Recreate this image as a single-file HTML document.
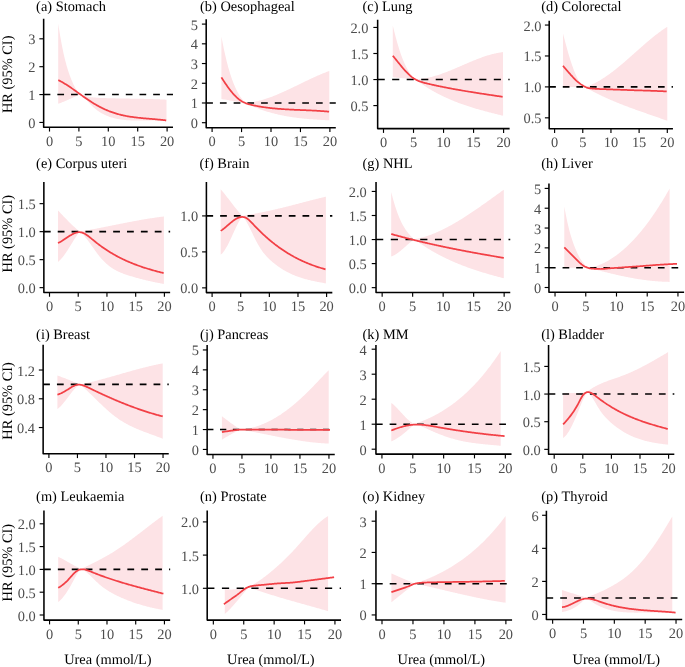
<!DOCTYPE html>
<html><head><meta charset="utf-8"><style>
html,body{margin:0;padding:0;background:#fff;}
svg{display:block;will-change:transform;text-rendering:geometricPrecision;}
.tk{font-family:"Liberation Serif",serif;font-size:14.4px;fill:#4d4d4d;}
.tt{font-family:"Liberation Serif",serif;font-size:14.4px;fill:#000;}
</style></head><body>
<svg width="685" height="667" viewBox="0 0 685 667">
<rect width="685" height="667" fill="#fff"/>
<g><path d="M58.20,23.40 L58.96,28.49 L59.73,33.29 L60.49,37.81 L61.26,42.08 L62.02,46.09 L62.79,49.87 L63.55,53.43 L64.31,56.77 L65.08,59.91 L65.84,62.86 L66.61,65.63 L67.37,68.24 L68.14,70.69 L68.90,73.00 L69.66,75.18 L70.43,77.24 L71.19,79.19 L71.96,81.03 L72.72,82.77 L73.49,84.41 L74.25,85.95 L75.01,87.41 L75.78,88.78 L76.54,90.08 L77.31,91.31 L78.07,92.47 L78.84,93.56 L79.60,94.60 L79.60,94.60 L80.36,94.86 L81.11,95.10 L81.87,95.33 L82.62,95.55 L83.38,95.75 L84.13,95.94 L84.89,96.12 L85.65,96.29 L86.40,96.44 L87.16,96.59 L87.91,96.72 L88.67,96.85 L89.42,96.96 L90.18,97.07 L90.93,97.17 L91.69,97.26 L92.45,97.35 L93.20,97.42 L93.96,97.49 L94.71,97.56 L95.47,97.61 L96.22,97.67 L96.98,97.72 L97.74,97.76 L98.49,97.80 L99.25,97.84 L100.00,97.88 L100.76,97.91 L101.51,97.94 L102.27,97.97 L103.03,98.00 L103.78,98.03 L104.54,98.06 L105.29,98.09 L106.05,98.11 L106.80,98.14 L107.56,98.16 L108.31,98.19 L109.07,98.21 L109.83,98.23 L110.58,98.25 L111.34,98.27 L112.09,98.29 L112.85,98.31 L113.60,98.33 L114.36,98.35 L115.12,98.36 L115.87,98.38 L116.63,98.40 L117.38,98.41 L118.14,98.43 L118.89,98.44 L119.65,98.46 L120.41,98.47 L121.16,98.49 L121.92,98.50 L122.67,98.51 L123.43,98.53 L124.18,98.54 L124.94,98.55 L125.69,98.56 L126.45,98.57 L127.21,98.59 L127.96,98.60 L128.72,98.61 L129.47,98.62 L130.23,98.63 L130.98,98.65 L131.74,98.66 L132.50,98.67 L133.25,98.68 L134.01,98.69 L134.76,98.71 L135.52,98.72 L136.27,98.73 L137.03,98.74 L137.79,98.76 L138.54,98.77 L139.30,98.78 L140.05,98.80 L140.81,98.81 L141.56,98.83 L142.32,98.84 L143.07,98.86 L143.83,98.87 L144.59,98.89 L145.34,98.91 L146.10,98.92 L146.85,98.94 L147.61,98.96 L148.36,98.98 L149.12,99.00 L149.88,99.02 L150.63,99.04 L151.39,99.06 L152.14,99.09 L152.90,99.11 L153.65,99.13 L154.41,99.16 L155.17,99.19 L155.92,99.21 L156.68,99.24 L157.43,99.27 L158.19,99.30 L158.94,99.33 L159.70,99.36 L160.45,99.40 L161.21,99.43 L161.97,99.46 L162.72,99.50 L163.48,99.54 L164.23,99.58 L164.99,99.62 L165.74,99.66 L166.50,99.70 L166.50,121.50 L165.74,121.38 L164.99,121.27 L164.23,121.17 L163.48,121.07 L162.72,120.99 L161.97,120.91 L161.21,120.83 L160.45,120.77 L159.70,120.71 L158.94,120.65 L158.19,120.61 L157.43,120.56 L156.68,120.53 L155.92,120.49 L155.17,120.47 L154.41,120.44 L153.65,120.42 L152.90,120.41 L152.14,120.40 L151.39,120.39 L150.63,120.38 L149.88,120.38 L149.12,120.38 L148.36,120.38 L147.61,120.39 L146.85,120.39 L146.10,120.40 L145.34,120.41 L144.59,120.42 L143.83,120.43 L143.07,120.44 L142.32,120.45 L141.56,120.46 L140.81,120.47 L140.05,120.47 L139.30,120.48 L138.54,120.49 L137.79,120.49 L137.03,120.49 L136.27,120.49 L135.52,120.49 L134.76,120.48 L134.01,120.47 L133.25,120.46 L132.50,120.45 L131.74,120.43 L130.98,120.40 L130.23,120.37 L129.47,120.34 L128.72,120.30 L127.96,120.26 L127.21,120.21 L126.45,120.15 L125.69,120.09 L124.94,120.03 L124.18,119.95 L123.43,119.87 L122.67,119.78 L121.92,119.69 L121.16,119.58 L120.41,119.47 L119.65,119.35 L118.89,119.22 L118.14,119.08 L117.38,118.93 L116.63,118.78 L115.87,118.61 L115.12,118.43 L114.36,118.25 L113.60,118.05 L112.85,117.84 L112.09,117.62 L111.34,117.39 L110.58,117.15 L109.83,116.89 L109.07,116.63 L108.31,116.35 L107.56,116.05 L106.80,115.75 L106.05,115.43 L105.29,115.09 L104.54,114.74 L103.78,114.37 L103.03,113.98 L102.27,113.57 L101.51,113.15 L100.76,112.71 L100.00,112.24 L99.25,111.76 L98.49,111.25 L97.74,110.72 L96.98,110.17 L96.22,109.59 L95.47,108.99 L94.71,108.37 L93.96,107.72 L93.20,107.04 L92.45,106.33 L91.69,105.60 L90.93,104.84 L90.18,104.05 L89.42,103.24 L88.67,102.42 L87.91,101.59 L87.16,100.77 L86.40,99.95 L85.65,99.16 L84.89,98.40 L84.13,97.68 L83.38,97.00 L82.62,96.38 L81.87,95.82 L81.11,95.33 L80.36,94.92 L79.60,94.60 L79.60,94.60 L78.84,94.94 L78.07,95.27 L77.31,95.62 L76.54,95.96 L75.78,96.31 L75.01,96.66 L74.25,97.01 L73.49,97.36 L72.72,97.71 L71.96,98.06 L71.19,98.41 L70.43,98.75 L69.66,99.10 L68.90,99.44 L68.14,99.78 L67.37,100.12 L66.61,100.45 L65.84,100.78 L65.08,101.10 L64.31,101.42 L63.55,101.73 L62.79,102.04 L62.02,102.34 L61.26,102.63 L60.49,102.91 L59.73,103.18 L58.96,103.45 L58.20,103.70 Z" fill="#fde3e6" stroke="none"/>
<line x1="43.65" y1="94.57" x2="172.98" y2="94.57" stroke="#000" stroke-width="1.6" stroke-dasharray="6.71 6.98"/>
<path d="M58.30,80.10 L59.05,80.48 L59.81,80.86 L60.56,81.26 L61.32,81.67 L62.07,82.10 L62.83,82.53 L63.58,82.97 L64.34,83.42 L65.09,83.88 L65.85,84.35 L66.60,84.82 L67.35,85.31 L68.11,85.80 L68.86,86.30 L69.62,86.80 L70.37,87.31 L71.13,87.83 L71.88,88.35 L72.64,88.87 L73.39,89.40 L74.15,89.94 L74.90,90.47 L75.65,91.01 L76.41,91.56 L77.16,92.10 L77.92,92.65 L78.67,93.19 L79.43,93.74 L80.18,94.29 L80.94,94.83 L81.69,95.37 L82.45,95.91 L83.20,96.45 L83.95,96.99 L84.71,97.52 L85.46,98.05 L86.22,98.57 L86.97,99.09 L87.73,99.60 L88.48,100.10 L89.24,100.60 L89.99,101.09 L90.75,101.58 L91.50,102.05 L92.25,102.53 L93.01,102.99 L93.76,103.45 L94.52,103.90 L95.27,104.34 L96.03,104.78 L96.78,105.21 L97.54,105.63 L98.29,106.05 L99.05,106.46 L99.80,106.86 L100.55,107.25 L101.31,107.63 L102.06,108.01 L102.82,108.38 L103.57,108.74 L104.33,109.10 L105.08,109.44 L105.84,109.78 L106.59,110.11 L107.35,110.43 L108.10,110.74 L108.85,111.05 L109.61,111.34 L110.36,111.63 L111.12,111.91 L111.87,112.18 L112.63,112.44 L113.38,112.70 L114.14,112.95 L114.89,113.19 L115.65,113.42 L116.40,113.64 L117.15,113.86 L117.91,114.07 L118.66,114.28 L119.42,114.48 L120.17,114.67 L120.93,114.85 L121.68,115.03 L122.44,115.21 L123.19,115.38 L123.95,115.54 L124.70,115.69 L125.45,115.84 L126.21,115.99 L126.96,116.13 L127.72,116.27 L128.47,116.40 L129.23,116.53 L129.98,116.65 L130.74,116.77 L131.49,116.88 L132.25,116.99 L133.00,117.10 L133.75,117.20 L134.51,117.30 L135.26,117.40 L136.02,117.49 L136.77,117.58 L137.53,117.67 L138.28,117.75 L139.04,117.83 L139.79,117.91 L140.55,117.99 L141.30,118.06 L142.05,118.14 L142.81,118.21 L143.56,118.28 L144.32,118.35 L145.07,118.41 L145.83,118.48 L146.58,118.55 L147.34,118.61 L148.09,118.67 L148.85,118.74 L149.60,118.80 L150.35,118.86 L151.11,118.92 L151.86,118.99 L152.62,119.05 L153.37,119.11 L154.13,119.18 L154.88,119.24 L155.64,119.31 L156.39,119.37 L157.15,119.44 L157.90,119.51 L158.65,119.58 L159.41,119.65 L160.16,119.73 L160.92,119.80 L161.67,119.88 L162.43,119.96 L163.18,120.04 L163.94,120.13 L164.69,120.22 L165.45,120.31 L166.20,120.40" fill="none" stroke="#f24046" stroke-width="1.75" stroke-linejoin="round" stroke-linecap="butt"/>
<path d="M43.65,18.80 L43.65,127.25 L172.98,127.25" fill="none" stroke="#000" stroke-width="1.55" stroke-linejoin="round"/>
<line x1="49.50" y1="127.25" x2="49.50" y2="131.55" stroke="#000" stroke-width="1.15"/>
<text x="49.50" y="145.85" text-anchor="middle" class="tk">0</text>
<line x1="78.90" y1="127.25" x2="78.90" y2="131.55" stroke="#000" stroke-width="1.15"/>
<text x="78.90" y="145.85" text-anchor="middle" class="tk">5</text>
<line x1="108.30" y1="127.25" x2="108.30" y2="131.55" stroke="#000" stroke-width="1.15"/>
<text x="108.30" y="145.85" text-anchor="middle" class="tk">10</text>
<line x1="137.70" y1="127.25" x2="137.70" y2="131.55" stroke="#000" stroke-width="1.15"/>
<text x="137.70" y="145.85" text-anchor="middle" class="tk">15</text>
<line x1="167.10" y1="127.25" x2="167.10" y2="131.55" stroke="#000" stroke-width="1.15"/>
<text x="167.10" y="145.85" text-anchor="middle" class="tk">20</text>
<line x1="39.35" y1="122.45" x2="43.65" y2="122.45" stroke="#000" stroke-width="1.15"/>
<text x="35.50" y="127.95" text-anchor="end" class="tk">0</text>
<line x1="39.35" y1="94.57" x2="43.65" y2="94.57" stroke="#000" stroke-width="1.15"/>
<text x="35.50" y="100.07" text-anchor="end" class="tk">1</text>
<line x1="39.35" y1="66.69" x2="43.65" y2="66.69" stroke="#000" stroke-width="1.15"/>
<text x="35.50" y="72.19" text-anchor="end" class="tk">2</text>
<line x1="39.35" y1="38.81" x2="43.65" y2="38.81" stroke="#000" stroke-width="1.15"/>
<text x="35.50" y="44.31" text-anchor="end" class="tk">3</text>
<text x="36.10" y="10.50" class="tt">(a) Stomach</text></g>
<g><path d="M221.40,36.40 L222.15,40.42 L222.90,44.27 L223.65,47.95 L224.40,51.48 L225.15,54.85 L225.90,58.07 L226.65,61.15 L227.40,64.08 L228.15,66.88 L228.90,69.54 L229.65,72.08 L230.40,74.49 L231.15,76.78 L231.90,78.95 L232.65,81.02 L233.40,82.97 L234.15,84.82 L234.90,86.57 L235.65,88.23 L236.40,89.80 L237.15,91.28 L237.90,92.68 L238.65,94.00 L239.40,95.24 L240.15,96.42 L240.90,97.54 L241.65,98.59 L242.40,99.59 L243.15,100.53 L243.90,101.43 L244.65,102.28 L245.40,103.10 L245.40,103.10 L246.16,103.04 L246.91,102.97 L247.67,102.90 L248.42,102.81 L249.18,102.72 L249.94,102.62 L250.69,102.51 L251.45,102.39 L252.20,102.27 L252.96,102.13 L253.71,101.99 L254.47,101.84 L255.23,101.69 L255.98,101.53 L256.74,101.36 L257.49,101.18 L258.25,101.00 L259.01,100.81 L259.76,100.61 L260.52,100.41 L261.27,100.20 L262.03,99.98 L262.78,99.76 L263.54,99.54 L264.30,99.30 L265.05,99.06 L265.81,98.82 L266.56,98.57 L267.32,98.31 L268.08,98.05 L268.83,97.79 L269.59,97.52 L270.34,97.24 L271.10,96.96 L271.85,96.68 L272.61,96.39 L273.37,96.10 L274.12,95.80 L274.88,95.50 L275.63,95.19 L276.39,94.88 L277.15,94.57 L277.90,94.25 L278.66,93.93 L279.41,93.61 L280.17,93.28 L280.93,92.95 L281.68,92.62 L282.44,92.28 L283.19,91.94 L283.95,91.60 L284.70,91.26 L285.46,90.91 L286.22,90.56 L286.97,90.21 L287.73,89.86 L288.48,89.50 L289.24,89.15 L290.00,88.79 L290.75,88.43 L291.51,88.07 L292.26,87.71 L293.02,87.35 L293.77,86.98 L294.53,86.62 L295.29,86.25 L296.04,85.88 L296.80,85.52 L297.55,85.15 L298.31,84.78 L299.07,84.41 L299.82,84.05 L300.58,83.68 L301.33,83.31 L302.09,82.94 L302.85,82.58 L303.60,82.21 L304.36,81.85 L305.11,81.48 L305.87,81.12 L306.62,80.76 L307.38,80.40 L308.14,80.04 L308.89,79.68 L309.65,79.32 L310.40,78.97 L311.16,78.61 L311.92,78.26 L312.67,77.91 L313.43,77.56 L314.18,77.22 L314.94,76.88 L315.69,76.54 L316.45,76.20 L317.21,75.87 L317.96,75.53 L318.72,75.21 L319.47,74.88 L320.23,74.56 L320.99,74.24 L321.74,73.93 L322.50,73.61 L323.25,73.31 L324.01,73.00 L324.76,72.70 L325.52,72.41 L326.28,72.12 L327.03,71.83 L327.79,71.55 L328.54,71.27 L329.30,71.00 L329.30,120.30 L328.54,120.27 L327.79,120.23 L327.03,120.20 L326.28,120.16 L325.52,120.13 L324.76,120.09 L324.01,120.05 L323.25,120.01 L322.50,119.97 L321.74,119.93 L320.99,119.89 L320.23,119.85 L319.47,119.81 L318.72,119.76 L317.96,119.72 L317.21,119.67 L316.45,119.62 L315.69,119.57 L314.94,119.52 L314.18,119.47 L313.43,119.42 L312.67,119.36 L311.92,119.31 L311.16,119.25 L310.40,119.19 L309.65,119.13 L308.89,119.06 L308.14,119.00 L307.38,118.93 L306.62,118.87 L305.87,118.79 L305.11,118.72 L304.36,118.65 L303.60,118.57 L302.85,118.49 L302.09,118.41 L301.33,118.33 L300.58,118.25 L299.82,118.16 L299.07,118.07 L298.31,117.98 L297.55,117.89 L296.80,117.79 L296.04,117.69 L295.29,117.59 L294.53,117.49 L293.77,117.38 L293.02,117.27 L292.26,117.16 L291.51,117.04 L290.75,116.93 L290.00,116.81 L289.24,116.68 L288.48,116.56 L287.73,116.43 L286.97,116.30 L286.22,116.16 L285.46,116.02 L284.70,115.88 L283.95,115.74 L283.19,115.59 L282.44,115.44 L281.68,115.29 L280.93,115.13 L280.17,114.97 L279.41,114.80 L278.66,114.63 L277.90,114.46 L277.15,114.29 L276.39,114.11 L275.63,113.93 L274.88,113.74 L274.12,113.55 L273.37,113.36 L272.61,113.16 L271.85,112.96 L271.10,112.75 L270.34,112.54 L269.59,112.33 L268.83,112.11 L268.08,111.89 L267.32,111.67 L266.56,111.44 L265.81,111.20 L265.05,110.96 L264.30,110.72 L263.54,110.47 L262.78,110.22 L262.03,109.96 L261.27,109.70 L260.52,109.44 L259.76,109.17 L259.01,108.89 L258.25,108.61 L257.49,108.33 L256.74,108.04 L255.98,107.75 L255.23,107.45 L254.47,107.14 L253.71,106.84 L252.96,106.52 L252.20,106.20 L251.45,105.88 L250.69,105.55 L249.94,105.22 L249.18,104.88 L248.42,104.53 L247.67,104.18 L246.91,103.83 L246.16,103.47 L245.40,103.10 L245.40,103.10 L244.65,103.02 L243.90,102.93 L243.15,102.84 L242.40,102.73 L241.65,102.62 L240.90,102.51 L240.15,102.39 L239.40,102.26 L238.65,102.13 L237.90,101.99 L237.15,101.85 L236.40,101.71 L235.65,101.57 L234.90,101.42 L234.15,101.27 L233.40,101.13 L232.65,100.98 L231.90,100.83 L231.15,100.68 L230.40,100.54 L229.65,100.39 L228.90,100.25 L228.15,100.12 L227.40,99.98 L226.65,99.85 L225.90,99.73 L225.15,99.61 L224.40,99.49 L223.65,99.38 L222.90,99.28 L222.15,99.19 L221.40,99.10 Z" fill="#fde3e6" stroke="none"/>
<line x1="206.20" y1="102.98" x2="335.79" y2="102.98" stroke="#000" stroke-width="1.6" stroke-dasharray="6.72 7.00"/>
<path d="M221.40,77.40 L222.15,78.58 L222.91,79.74 L223.66,80.89 L224.41,82.03 L225.17,83.15 L225.92,84.25 L226.67,85.34 L227.43,86.41 L228.18,87.45 L228.93,88.48 L229.68,89.48 L230.44,90.45 L231.19,91.40 L231.94,92.32 L232.70,93.22 L233.45,94.08 L234.20,94.91 L234.96,95.71 L235.71,96.47 L236.46,97.20 L237.22,97.89 L237.97,98.55 L238.72,99.16 L239.48,99.73 L240.23,100.27 L240.98,100.76 L241.73,101.22 L242.49,101.65 L243.24,102.05 L243.99,102.41 L244.75,102.75 L245.50,103.07 L246.25,103.36 L247.01,103.62 L247.76,103.87 L248.51,104.10 L249.27,104.32 L250.02,104.52 L250.77,104.71 L251.53,104.89 L252.28,105.06 L253.03,105.23 L253.79,105.39 L254.54,105.54 L255.29,105.70 L256.04,105.85 L256.80,105.99 L257.55,106.13 L258.30,106.27 L259.06,106.41 L259.81,106.54 L260.56,106.66 L261.32,106.79 L262.07,106.91 L262.82,107.02 L263.58,107.14 L264.33,107.25 L265.08,107.36 L265.84,107.46 L266.59,107.56 L267.34,107.66 L268.10,107.75 L268.85,107.85 L269.60,107.94 L270.35,108.02 L271.11,108.11 L271.86,108.19 L272.61,108.27 L273.37,108.35 L274.12,108.42 L274.87,108.49 L275.63,108.56 L276.38,108.63 L277.13,108.69 L277.89,108.76 L278.64,108.82 L279.39,108.88 L280.15,108.94 L280.90,108.99 L281.65,109.05 L282.40,109.10 L283.16,109.15 L283.91,109.20 L284.66,109.25 L285.42,109.29 L286.17,109.34 L286.92,109.38 L287.68,109.42 L288.43,109.46 L289.18,109.50 L289.94,109.54 L290.69,109.58 L291.44,109.62 L292.20,109.65 L292.95,109.69 L293.70,109.72 L294.46,109.76 L295.21,109.79 L295.96,109.82 L296.71,109.86 L297.47,109.89 L298.22,109.92 L298.97,109.95 L299.73,109.98 L300.48,110.01 L301.23,110.04 L301.99,110.08 L302.74,110.11 L303.49,110.14 L304.25,110.17 L305.00,110.20 L305.75,110.23 L306.51,110.26 L307.26,110.30 L308.01,110.33 L308.77,110.36 L309.52,110.40 L310.27,110.43 L311.02,110.47 L311.78,110.50 L312.53,110.54 L313.28,110.58 L314.04,110.62 L314.79,110.66 L315.54,110.70 L316.30,110.74 L317.05,110.78 L317.80,110.83 L318.56,110.87 L319.31,110.92 L320.06,110.97 L320.82,111.02 L321.57,111.07 L322.32,111.13 L323.07,111.18 L323.83,111.24 L324.58,111.30 L325.33,111.36 L326.09,111.43 L326.84,111.49 L327.59,111.56 L328.35,111.63 L329.10,111.70" fill="none" stroke="#f24046" stroke-width="1.75" stroke-linejoin="round" stroke-linecap="butt"/>
<path d="M206.20,19.20 L206.20,127.80 L335.79,127.80" fill="none" stroke="#000" stroke-width="1.55" stroke-linejoin="round"/>
<line x1="212.10" y1="127.80" x2="212.10" y2="132.10" stroke="#000" stroke-width="1.15"/>
<text x="212.10" y="146.40" text-anchor="middle" class="tk">0</text>
<line x1="241.55" y1="127.80" x2="241.55" y2="132.10" stroke="#000" stroke-width="1.15"/>
<text x="241.55" y="146.40" text-anchor="middle" class="tk">5</text>
<line x1="271.00" y1="127.80" x2="271.00" y2="132.10" stroke="#000" stroke-width="1.15"/>
<text x="271.00" y="146.40" text-anchor="middle" class="tk">10</text>
<line x1="300.45" y1="127.80" x2="300.45" y2="132.10" stroke="#000" stroke-width="1.15"/>
<text x="300.45" y="146.40" text-anchor="middle" class="tk">15</text>
<line x1="329.90" y1="127.80" x2="329.90" y2="132.10" stroke="#000" stroke-width="1.15"/>
<text x="329.90" y="146.40" text-anchor="middle" class="tk">20</text>
<line x1="201.90" y1="122.70" x2="206.20" y2="122.70" stroke="#000" stroke-width="1.15"/>
<text x="197.95" y="128.20" text-anchor="end" class="tk">0</text>
<line x1="201.90" y1="102.98" x2="206.20" y2="102.98" stroke="#000" stroke-width="1.15"/>
<text x="197.95" y="108.48" text-anchor="end" class="tk">1</text>
<line x1="201.90" y1="83.26" x2="206.20" y2="83.26" stroke="#000" stroke-width="1.15"/>
<text x="197.95" y="88.76" text-anchor="end" class="tk">2</text>
<line x1="201.90" y1="63.54" x2="206.20" y2="63.54" stroke="#000" stroke-width="1.15"/>
<text x="197.95" y="69.04" text-anchor="end" class="tk">3</text>
<line x1="201.90" y1="43.82" x2="206.20" y2="43.82" stroke="#000" stroke-width="1.15"/>
<text x="197.95" y="49.32" text-anchor="end" class="tk">4</text>
<line x1="201.90" y1="24.10" x2="206.20" y2="24.10" stroke="#000" stroke-width="1.15"/>
<text x="197.95" y="29.60" text-anchor="end" class="tk">5</text>
<text x="200.00" y="10.50" class="tt">(b) Oesophageal</text></g>
<g><path d="M392.80,25.40 L393.57,28.67 L394.33,31.83 L395.10,34.86 L395.86,37.78 L396.63,40.58 L397.39,43.27 L398.16,45.85 L398.92,48.33 L399.69,50.70 L400.46,52.96 L401.22,55.13 L401.99,57.19 L402.75,59.16 L403.52,61.04 L404.28,62.82 L405.05,64.51 L405.81,66.11 L406.58,67.63 L407.34,69.07 L408.11,70.42 L408.88,71.70 L409.64,72.89 L410.41,74.02 L411.17,75.07 L411.94,76.04 L412.70,76.96 L413.47,77.80 L414.23,78.58 L415.00,79.30 L415.00,79.30 L415.75,79.28 L416.50,79.26 L417.26,79.22 L418.01,79.17 L418.76,79.12 L419.51,79.06 L420.26,78.98 L421.02,78.90 L421.77,78.81 L422.52,78.71 L423.27,78.60 L424.03,78.48 L424.78,78.36 L425.53,78.22 L426.28,78.08 L427.03,77.94 L427.79,77.78 L428.54,77.62 L429.29,77.45 L430.04,77.27 L430.79,77.09 L431.55,76.90 L432.30,76.70 L433.05,76.50 L433.80,76.29 L434.56,76.07 L435.31,75.85 L436.06,75.62 L436.81,75.39 L437.56,75.15 L438.32,74.91 L439.07,74.66 L439.82,74.41 L440.57,74.15 L441.32,73.89 L442.08,73.62 L442.83,73.35 L443.58,73.07 L444.33,72.79 L445.09,72.51 L445.84,72.22 L446.59,71.93 L447.34,71.64 L448.09,71.34 L448.85,71.04 L449.60,70.74 L450.35,70.44 L451.10,70.13 L451.85,69.82 L452.61,69.51 L453.36,69.19 L454.11,68.88 L454.86,68.56 L455.62,68.24 L456.37,67.92 L457.12,67.60 L457.87,67.28 L458.62,66.95 L459.38,66.63 L460.13,66.30 L460.88,65.98 L461.63,65.65 L462.38,65.33 L463.14,65.00 L463.89,64.68 L464.64,64.35 L465.39,64.03 L466.15,63.71 L466.90,63.38 L467.65,63.06 L468.40,62.74 L469.15,62.42 L469.91,62.10 L470.66,61.79 L471.41,61.48 L472.16,61.16 L472.91,60.85 L473.67,60.55 L474.42,60.24 L475.17,59.94 L475.92,59.64 L476.68,59.34 L477.43,59.05 L478.18,58.76 L478.93,58.47 L479.68,58.19 L480.44,57.91 L481.19,57.64 L481.94,57.37 L482.69,57.10 L483.44,56.84 L484.20,56.58 L484.95,56.33 L485.70,56.08 L486.45,55.84 L487.21,55.60 L487.96,55.37 L488.71,55.14 L489.46,54.92 L490.21,54.70 L490.97,54.49 L491.72,54.29 L492.47,54.09 L493.22,53.90 L493.97,53.72 L494.73,53.54 L495.48,53.38 L496.23,53.21 L496.98,53.06 L497.74,52.91 L498.49,52.77 L499.24,52.64 L499.99,52.51 L500.74,52.40 L501.50,52.29 L502.25,52.19 L503.00,52.10 L503.10,115.80 L502.35,115.61 L501.59,115.43 L500.84,115.24 L500.09,115.05 L499.34,114.87 L498.58,114.68 L497.83,114.49 L497.08,114.30 L496.32,114.11 L495.57,113.92 L494.82,113.73 L494.06,113.54 L493.31,113.35 L492.56,113.16 L491.81,112.97 L491.05,112.78 L490.30,112.58 L489.55,112.39 L488.79,112.19 L488.04,111.99 L487.29,111.80 L486.53,111.60 L485.78,111.40 L485.03,111.20 L484.28,110.99 L483.52,110.79 L482.77,110.58 L482.02,110.37 L481.26,110.17 L480.51,109.96 L479.76,109.74 L479.00,109.53 L478.25,109.31 L477.50,109.10 L476.75,108.88 L475.99,108.66 L475.24,108.43 L474.49,108.21 L473.73,107.98 L472.98,107.75 L472.23,107.52 L471.47,107.29 L470.72,107.05 L469.97,106.81 L469.22,106.57 L468.46,106.33 L467.71,106.08 L466.96,105.83 L466.20,105.58 L465.45,105.33 L464.70,105.07 L463.94,104.81 L463.19,104.55 L462.44,104.29 L461.69,104.02 L460.93,103.75 L460.18,103.47 L459.43,103.20 L458.67,102.91 L457.92,102.63 L457.17,102.34 L456.41,102.05 L455.66,101.76 L454.91,101.46 L454.16,101.16 L453.40,100.86 L452.65,100.55 L451.90,100.24 L451.14,99.92 L450.39,99.60 L449.64,99.28 L448.88,98.95 L448.13,98.62 L447.38,98.29 L446.63,97.95 L445.87,97.60 L445.12,97.26 L444.37,96.91 L443.61,96.55 L442.86,96.19 L442.11,95.83 L441.35,95.46 L440.60,95.08 L439.85,94.70 L439.10,94.32 L438.34,93.93 L437.59,93.54 L436.84,93.14 L436.08,92.74 L435.33,92.34 L434.58,91.92 L433.82,91.51 L433.07,91.09 L432.32,90.66 L431.57,90.23 L430.81,89.79 L430.06,89.35 L429.31,88.90 L428.55,88.45 L427.80,87.99 L427.05,87.52 L426.29,87.05 L425.54,86.58 L424.79,86.10 L424.04,85.61 L423.28,85.12 L422.53,84.62 L421.78,84.11 L421.02,83.60 L420.27,83.09 L419.52,82.56 L418.76,82.04 L418.01,81.50 L417.26,80.96 L416.51,80.41 L415.75,79.86 L415.00,79.30 L415.00,79.30 L414.23,79.23 L413.47,79.16 L412.70,79.09 L411.94,79.02 L411.17,78.95 L410.41,78.88 L409.64,78.81 L408.88,78.74 L408.11,78.67 L407.34,78.60 L406.58,78.53 L405.81,78.46 L405.05,78.39 L404.28,78.33 L403.52,78.26 L402.75,78.19 L401.99,78.12 L401.22,78.05 L400.46,77.98 L399.69,77.91 L398.92,77.84 L398.16,77.78 L397.39,77.71 L396.63,77.64 L395.86,77.57 L395.10,77.50 L394.33,77.44 L393.57,77.37 L392.80,77.30 Z" fill="#fde3e6" stroke="none"/>
<line x1="377.65" y1="79.55" x2="509.61" y2="79.55" stroke="#000" stroke-width="1.6" stroke-dasharray="7.11 7.41"/>
<path d="M392.80,55.70 L393.55,56.61 L394.30,57.54 L395.06,58.47 L395.81,59.40 L396.56,60.34 L397.31,61.27 L398.06,62.21 L398.82,63.14 L399.57,64.07 L400.32,65.00 L401.07,65.91 L401.82,66.82 L402.58,67.71 L403.33,68.59 L404.08,69.46 L404.83,70.30 L405.58,71.13 L406.34,71.94 L407.09,72.72 L407.84,73.48 L408.59,74.21 L409.35,74.91 L410.10,75.59 L410.85,76.23 L411.60,76.84 L412.35,77.41 L413.11,77.94 L413.86,78.45 L414.61,78.91 L415.36,79.35 L416.11,79.76 L416.87,80.14 L417.62,80.50 L418.37,80.83 L419.12,81.14 L419.87,81.43 L420.63,81.70 L421.38,81.96 L422.13,82.19 L422.88,82.42 L423.63,82.63 L424.39,82.83 L425.14,83.03 L425.89,83.21 L426.64,83.40 L427.39,83.58 L428.15,83.75 L428.90,83.93 L429.65,84.10 L430.40,84.27 L431.15,84.45 L431.91,84.61 L432.66,84.78 L433.41,84.95 L434.16,85.12 L434.92,85.28 L435.67,85.44 L436.42,85.61 L437.17,85.77 L437.92,85.93 L438.68,86.09 L439.43,86.24 L440.18,86.40 L440.93,86.55 L441.68,86.71 L442.44,86.86 L443.19,87.01 L443.94,87.16 L444.69,87.31 L445.44,87.46 L446.20,87.61 L446.95,87.75 L447.70,87.90 L448.45,88.04 L449.20,88.19 L449.96,88.33 L450.71,88.47 L451.46,88.61 L452.21,88.75 L452.96,88.89 L453.72,89.03 L454.47,89.16 L455.22,89.30 L455.97,89.44 L456.72,89.57 L457.48,89.70 L458.23,89.84 L458.98,89.97 L459.73,90.10 L460.48,90.23 L461.24,90.36 L461.99,90.49 L462.74,90.62 L463.49,90.74 L464.25,90.87 L465.00,91.00 L465.75,91.12 L466.50,91.25 L467.25,91.37 L468.01,91.49 L468.76,91.62 L469.51,91.74 L470.26,91.86 L471.01,91.98 L471.77,92.10 L472.52,92.22 L473.27,92.34 L474.02,92.46 L474.77,92.58 L475.53,92.70 L476.28,92.82 L477.03,92.94 L477.78,93.05 L478.53,93.17 L479.29,93.29 L480.04,93.40 L480.79,93.52 L481.54,93.63 L482.29,93.75 L483.05,93.86 L483.80,93.98 L484.55,94.09 L485.30,94.21 L486.05,94.32 L486.81,94.44 L487.56,94.55 L488.31,94.66 L489.06,94.78 L489.82,94.89 L490.57,95.00 L491.32,95.11 L492.07,95.23 L492.82,95.34 L493.58,95.45 L494.33,95.56 L495.08,95.68 L495.83,95.79 L496.58,95.90 L497.34,96.01 L498.09,96.13 L498.84,96.24 L499.59,96.35 L500.34,96.46 L501.10,96.58 L501.85,96.69 L502.60,96.80" fill="none" stroke="#f24046" stroke-width="1.75" stroke-linejoin="round" stroke-linecap="butt"/>
<path d="M377.65,19.70 L377.65,128.60 L509.61,128.60" fill="none" stroke="#000" stroke-width="1.55" stroke-linejoin="round"/>
<line x1="383.50" y1="128.60" x2="383.50" y2="132.90" stroke="#000" stroke-width="1.15"/>
<text x="383.50" y="147.20" text-anchor="middle" class="tk">0</text>
<line x1="413.52" y1="128.60" x2="413.52" y2="132.90" stroke="#000" stroke-width="1.15"/>
<text x="413.52" y="147.20" text-anchor="middle" class="tk">5</text>
<line x1="443.55" y1="128.60" x2="443.55" y2="132.90" stroke="#000" stroke-width="1.15"/>
<text x="443.55" y="147.20" text-anchor="middle" class="tk">10</text>
<line x1="473.57" y1="128.60" x2="473.57" y2="132.90" stroke="#000" stroke-width="1.15"/>
<text x="473.57" y="147.20" text-anchor="middle" class="tk">15</text>
<line x1="503.60" y1="128.60" x2="503.60" y2="132.90" stroke="#000" stroke-width="1.15"/>
<text x="503.60" y="147.20" text-anchor="middle" class="tk">20</text>
<line x1="373.35" y1="105.60" x2="377.65" y2="105.60" stroke="#000" stroke-width="1.15"/>
<text x="368.40" y="111.10" text-anchor="end" class="tk">0.5</text>
<line x1="373.35" y1="79.55" x2="377.65" y2="79.55" stroke="#000" stroke-width="1.15"/>
<text x="368.40" y="85.05" text-anchor="end" class="tk">1.0</text>
<line x1="373.35" y1="53.50" x2="377.65" y2="53.50" stroke="#000" stroke-width="1.15"/>
<text x="368.40" y="59.00" text-anchor="end" class="tk">1.5</text>
<line x1="373.35" y1="27.45" x2="377.65" y2="27.45" stroke="#000" stroke-width="1.15"/>
<text x="368.40" y="32.95" text-anchor="end" class="tk">2.0</text>
<text x="362.50" y="10.50" class="tt">(c) Lung</text></g>
<g><path d="M563.00,33.40 L563.76,36.40 L564.52,39.35 L565.28,42.24 L566.03,45.07 L566.79,47.84 L567.55,50.54 L568.31,53.18 L569.07,55.74 L569.83,58.23 L570.59,60.63 L571.34,62.96 L572.10,65.20 L572.86,67.36 L573.62,69.42 L574.38,71.38 L575.14,73.25 L575.90,75.02 L576.66,76.68 L577.41,78.23 L578.17,79.67 L578.93,81.00 L579.69,82.21 L580.45,83.30 L581.21,84.26 L581.97,85.10 L582.72,85.80 L583.48,86.37 L584.24,86.81 L585.00,87.10 L585.00,87.10 L585.76,86.87 L586.51,86.62 L587.27,86.37 L588.02,86.10 L588.78,85.81 L589.53,85.52 L590.29,85.21 L591.04,84.89 L591.80,84.56 L592.55,84.22 L593.31,83.87 L594.06,83.51 L594.82,83.13 L595.57,82.75 L596.33,82.35 L597.08,81.95 L597.84,81.53 L598.59,81.11 L599.35,80.67 L600.10,80.23 L600.86,79.78 L601.61,79.31 L602.37,78.84 L603.12,78.36 L603.88,77.87 L604.63,77.38 L605.39,76.87 L606.14,76.36 L606.90,75.84 L607.65,75.31 L608.41,74.77 L609.16,74.23 L609.92,73.68 L610.67,73.12 L611.43,72.56 L612.18,71.99 L612.94,71.41 L613.69,70.83 L614.45,70.24 L615.20,69.65 L615.96,69.05 L616.71,68.45 L617.47,67.84 L618.22,67.22 L618.98,66.60 L619.73,65.98 L620.49,65.35 L621.24,64.72 L622.00,64.08 L622.75,63.44 L623.51,62.80 L624.26,62.15 L625.02,61.50 L625.77,60.84 L626.53,60.19 L627.28,59.53 L628.04,58.87 L628.79,58.20 L629.55,57.54 L630.30,56.87 L631.06,56.20 L631.81,55.53 L632.57,54.86 L633.32,54.18 L634.08,53.51 L634.83,52.84 L635.59,52.16 L636.34,51.49 L637.10,50.81 L637.85,50.14 L638.61,49.47 L639.36,48.80 L640.12,48.13 L640.87,47.46 L641.63,46.79 L642.38,46.13 L643.14,45.46 L643.89,44.80 L644.65,44.15 L645.40,43.49 L646.16,42.84 L646.91,42.19 L647.67,41.55 L648.42,40.91 L649.18,40.27 L649.93,39.64 L650.69,39.02 L651.44,38.39 L652.20,37.78 L652.95,37.17 L653.71,36.56 L654.46,35.96 L655.22,35.37 L655.97,34.78 L656.73,34.20 L657.48,33.63 L658.24,33.06 L658.99,32.50 L659.75,31.95 L660.50,31.40 L661.26,30.87 L662.01,30.34 L662.77,29.82 L663.52,29.31 L664.28,28.81 L665.03,28.32 L665.79,27.83 L666.54,27.36 L667.30,26.90 L667.30,120.80 L666.54,120.53 L665.79,120.26 L665.03,119.98 L664.28,119.71 L663.52,119.45 L662.77,119.18 L662.01,118.91 L661.26,118.64 L660.50,118.38 L659.75,118.11 L658.99,117.84 L658.24,117.58 L657.48,117.31 L656.73,117.05 L655.97,116.79 L655.22,116.52 L654.46,116.26 L653.71,116.00 L652.95,115.73 L652.20,115.47 L651.44,115.21 L650.69,114.95 L649.93,114.68 L649.18,114.42 L648.42,114.16 L647.67,113.89 L646.91,113.63 L646.16,113.37 L645.40,113.10 L644.65,112.84 L643.89,112.58 L643.14,112.31 L642.38,112.04 L641.63,111.78 L640.87,111.51 L640.12,111.25 L639.36,110.98 L638.61,110.71 L637.85,110.44 L637.10,110.17 L636.34,109.90 L635.59,109.63 L634.83,109.36 L634.08,109.08 L633.32,108.81 L632.57,108.53 L631.81,108.26 L631.06,107.98 L630.30,107.70 L629.55,107.42 L628.79,107.14 L628.04,106.86 L627.28,106.57 L626.53,106.29 L625.77,106.00 L625.02,105.71 L624.26,105.42 L623.51,105.13 L622.75,104.84 L622.00,104.54 L621.24,104.24 L620.49,103.95 L619.73,103.65 L618.98,103.34 L618.22,103.04 L617.47,102.73 L616.71,102.43 L615.96,102.12 L615.20,101.80 L614.45,101.49 L613.69,101.17 L612.94,100.85 L612.18,100.53 L611.43,100.21 L610.67,99.89 L609.92,99.56 L609.16,99.23 L608.41,98.89 L607.65,98.56 L606.90,98.22 L606.14,97.88 L605.39,97.54 L604.63,97.19 L603.88,96.84 L603.12,96.49 L602.37,96.14 L601.61,95.78 L600.86,95.42 L600.10,95.06 L599.35,94.69 L598.59,94.32 L597.84,93.95 L597.08,93.57 L596.33,93.20 L595.57,92.81 L594.82,92.43 L594.06,92.04 L593.31,91.65 L592.55,91.25 L591.80,90.85 L591.04,90.45 L590.29,90.04 L589.53,89.64 L588.78,89.22 L588.02,88.81 L587.27,88.38 L586.51,87.96 L585.76,87.53 L585.00,87.10 L585.00,87.10 L584.24,87.10 L583.48,87.09 L582.72,87.09 L581.97,87.09 L581.21,87.09 L580.45,87.09 L579.69,87.09 L578.93,87.09 L578.17,87.09 L577.41,87.09 L576.66,87.09 L575.90,87.09 L575.14,87.10 L574.38,87.10 L573.62,87.10 L572.86,87.11 L572.10,87.11 L571.34,87.11 L570.59,87.12 L569.83,87.13 L569.07,87.13 L568.31,87.14 L567.55,87.15 L566.79,87.15 L566.03,87.16 L565.28,87.17 L564.52,87.18 L563.76,87.19 L563.00,87.20 Z" fill="#fde3e6" stroke="none"/>
<line x1="549.20" y1="86.90" x2="672.94" y2="86.90" stroke="#000" stroke-width="1.6" stroke-dasharray="6.66 6.94"/>
<path d="M563.00,65.80 L563.75,66.70 L564.50,67.59 L565.25,68.47 L566.01,69.35 L566.76,70.23 L567.51,71.10 L568.26,71.96 L569.01,72.82 L569.76,73.68 L570.51,74.54 L571.27,75.37 L572.02,76.19 L572.77,76.99 L573.52,77.79 L574.27,78.59 L575.02,79.36 L575.77,80.11 L576.53,80.81 L577.28,81.46 L578.03,82.08 L578.78,82.68 L579.53,83.27 L580.28,83.83 L581.03,84.37 L581.79,84.88 L582.54,85.36 L583.29,85.81 L584.04,86.22 L584.79,86.60 L585.54,86.98 L586.29,87.33 L587.05,87.64 L587.80,87.88 L588.55,88.05 L589.30,88.18 L590.05,88.30 L590.80,88.40 L591.56,88.49 L592.31,88.57 L593.06,88.64 L593.81,88.69 L594.56,88.74 L595.31,88.79 L596.06,88.83 L596.82,88.88 L597.57,88.91 L598.32,88.95 L599.07,88.98 L599.82,89.01 L600.57,89.04 L601.32,89.07 L602.08,89.10 L602.83,89.13 L603.58,89.15 L604.33,89.18 L605.08,89.20 L605.83,89.23 L606.58,89.26 L607.34,89.29 L608.09,89.32 L608.84,89.34 L609.59,89.37 L610.34,89.40 L611.09,89.43 L611.84,89.46 L612.60,89.48 L613.35,89.51 L614.10,89.54 L614.85,89.56 L615.60,89.59 L616.35,89.62 L617.10,89.64 L617.86,89.67 L618.61,89.69 L619.36,89.72 L620.11,89.75 L620.86,89.77 L621.61,89.80 L622.36,89.83 L623.12,89.86 L623.87,89.88 L624.62,89.91 L625.37,89.94 L626.12,89.97 L626.87,89.99 L627.62,90.02 L628.38,90.05 L629.13,90.08 L629.88,90.11 L630.63,90.13 L631.38,90.16 L632.13,90.19 L632.88,90.21 L633.64,90.24 L634.39,90.26 L635.14,90.29 L635.89,90.31 L636.64,90.34 L637.39,90.36 L638.14,90.38 L638.90,90.40 L639.65,90.42 L640.40,90.44 L641.15,90.46 L641.90,90.48 L642.65,90.50 L643.41,90.52 L644.16,90.55 L644.91,90.57 L645.66,90.59 L646.41,90.61 L647.16,90.63 L647.91,90.66 L648.67,90.68 L649.42,90.70 L650.17,90.73 L650.92,90.76 L651.67,90.78 L652.42,90.81 L653.17,90.84 L653.93,90.86 L654.68,90.89 L655.43,90.92 L656.18,90.95 L656.93,90.98 L657.68,91.01 L658.43,91.04 L659.19,91.07 L659.94,91.10 L660.69,91.13 L661.44,91.16 L662.19,91.20 L662.94,91.23 L663.69,91.26 L664.45,91.30 L665.20,91.33 L665.95,91.37 L666.70,91.40" fill="none" stroke="#f24046" stroke-width="1.75" stroke-linejoin="round" stroke-linecap="butt"/>
<path d="M549.20,20.70 L549.20,128.70 L672.94,128.70" fill="none" stroke="#000" stroke-width="1.55" stroke-linejoin="round"/>
<line x1="554.60" y1="128.70" x2="554.60" y2="133.00" stroke="#000" stroke-width="1.15"/>
<text x="554.60" y="147.30" text-anchor="middle" class="tk">0</text>
<line x1="582.77" y1="128.70" x2="582.77" y2="133.00" stroke="#000" stroke-width="1.15"/>
<text x="582.77" y="147.30" text-anchor="middle" class="tk">5</text>
<line x1="610.95" y1="128.70" x2="610.95" y2="133.00" stroke="#000" stroke-width="1.15"/>
<text x="610.95" y="147.30" text-anchor="middle" class="tk">10</text>
<line x1="639.12" y1="128.70" x2="639.12" y2="133.00" stroke="#000" stroke-width="1.15"/>
<text x="639.12" y="147.30" text-anchor="middle" class="tk">15</text>
<line x1="667.30" y1="128.70" x2="667.30" y2="133.00" stroke="#000" stroke-width="1.15"/>
<text x="667.30" y="147.30" text-anchor="middle" class="tk">20</text>
<line x1="544.90" y1="117.83" x2="549.20" y2="117.83" stroke="#000" stroke-width="1.15"/>
<text x="541.45" y="123.33" text-anchor="end" class="tk">0.5</text>
<line x1="544.90" y1="86.90" x2="549.20" y2="86.90" stroke="#000" stroke-width="1.15"/>
<text x="541.45" y="92.40" text-anchor="end" class="tk">1.0</text>
<line x1="544.90" y1="55.97" x2="549.20" y2="55.97" stroke="#000" stroke-width="1.15"/>
<text x="541.45" y="61.47" text-anchor="end" class="tk">1.5</text>
<line x1="544.90" y1="25.05" x2="549.20" y2="25.05" stroke="#000" stroke-width="1.15"/>
<text x="541.45" y="30.55" text-anchor="end" class="tk">2.0</text>
<text x="541.20" y="10.50" class="tt">(d) Colorectal</text></g>
<g><path d="M58.00,210.50 L58.77,211.31 L59.54,212.12 L60.31,212.94 L61.09,213.75 L61.86,214.55 L62.63,215.36 L63.40,216.16 L64.17,216.96 L64.94,217.76 L65.71,218.55 L66.49,219.34 L67.26,220.12 L68.03,220.89 L68.80,221.67 L69.57,222.43 L70.34,223.19 L71.11,223.94 L71.89,224.68 L72.66,225.42 L73.43,226.14 L74.20,226.86 L74.97,227.57 L75.74,228.27 L76.51,228.96 L77.29,229.64 L78.06,230.30 L78.83,230.96 L79.60,231.60 L79.60,231.60 L80.35,231.48 L81.11,231.35 L81.86,231.22 L82.61,231.10 L83.36,230.97 L84.12,230.84 L84.87,230.71 L85.62,230.57 L86.37,230.44 L87.13,230.31 L87.88,230.17 L88.63,230.04 L89.38,229.90 L90.14,229.76 L90.89,229.62 L91.64,229.48 L92.40,229.34 L93.15,229.20 L93.90,229.06 L94.65,228.92 L95.41,228.78 L96.16,228.63 L96.91,228.49 L97.66,228.34 L98.42,228.20 L99.17,228.05 L99.92,227.90 L100.67,227.76 L101.43,227.61 L102.18,227.46 L102.93,227.31 L103.69,227.16 L104.44,227.01 L105.19,226.87 L105.94,226.72 L106.70,226.57 L107.45,226.42 L108.20,226.26 L108.95,226.11 L109.71,225.96 L110.46,225.81 L111.21,225.66 L111.97,225.51 L112.72,225.36 L113.47,225.21 L114.22,225.06 L114.98,224.91 L115.73,224.75 L116.48,224.60 L117.23,224.45 L117.99,224.30 L118.74,224.15 L119.49,224.00 L120.24,223.85 L121.00,223.70 L121.75,223.55 L122.50,223.40 L123.26,223.25 L124.01,223.10 L124.76,222.96 L125.51,222.81 L126.27,222.66 L127.02,222.52 L127.77,222.37 L128.52,222.22 L129.28,222.08 L130.03,221.93 L130.78,221.79 L131.53,221.65 L132.29,221.50 L133.04,221.36 L133.79,221.22 L134.55,221.08 L135.30,220.94 L136.05,220.80 L136.80,220.66 L137.56,220.53 L138.31,220.39 L139.06,220.26 L139.81,220.12 L140.57,219.99 L141.32,219.86 L142.07,219.73 L142.82,219.60 L143.58,219.47 L144.33,219.34 L145.08,219.21 L145.84,219.09 L146.59,218.96 L147.34,218.84 L148.09,218.72 L148.85,218.60 L149.60,218.48 L150.35,218.36 L151.10,218.24 L151.86,218.13 L152.61,218.01 L153.36,217.90 L154.12,217.79 L154.87,217.68 L155.62,217.57 L156.37,217.47 L157.13,217.36 L157.88,217.26 L158.63,217.16 L159.38,217.06 L160.14,216.96 L160.89,216.87 L161.64,216.77 L162.39,216.68 L163.15,216.59 L163.90,216.50 L163.90,283.90 L163.15,283.78 L162.39,283.65 L161.64,283.52 L160.89,283.39 L160.14,283.25 L159.38,283.11 L158.63,282.97 L157.88,282.83 L157.13,282.69 L156.37,282.54 L155.62,282.39 L154.87,282.24 L154.12,282.09 L153.36,281.93 L152.61,281.77 L151.86,281.61 L151.10,281.45 L150.35,281.28 L149.60,281.11 L148.85,280.94 L148.09,280.77 L147.34,280.60 L146.59,280.42 L145.84,280.24 L145.08,280.06 L144.33,279.87 L143.58,279.68 L142.82,279.49 L142.07,279.30 L141.32,279.11 L140.57,278.91 L139.81,278.71 L139.06,278.51 L138.31,278.30 L137.56,278.10 L136.80,277.89 L136.05,277.68 L135.30,277.46 L134.55,277.25 L133.79,277.03 L133.04,276.81 L132.29,276.59 L131.53,276.36 L130.78,276.13 L130.03,275.90 L129.28,275.67 L128.52,275.43 L127.77,275.19 L127.02,274.95 L126.27,274.70 L125.51,274.45 L124.76,274.18 L124.01,273.92 L123.26,273.64 L122.50,273.35 L121.75,273.06 L121.00,272.75 L120.24,272.43 L119.49,272.10 L118.74,271.76 L117.99,271.41 L117.23,271.04 L116.48,270.65 L115.73,270.25 L114.98,269.84 L114.22,269.40 L113.47,268.95 L112.72,268.48 L111.97,267.99 L111.21,267.48 L110.46,266.95 L109.71,266.40 L108.95,265.82 L108.20,265.22 L107.45,264.60 L106.70,263.95 L105.94,263.28 L105.19,262.58 L104.44,261.86 L103.69,261.10 L102.93,260.32 L102.18,259.51 L101.43,258.67 L100.67,257.80 L99.92,256.90 L99.17,255.96 L98.42,255.00 L97.66,254.02 L96.91,253.01 L96.16,251.99 L95.41,250.95 L94.65,249.90 L93.90,248.84 L93.15,247.78 L92.40,246.72 L91.64,245.66 L90.89,244.60 L90.14,243.55 L89.38,242.52 L88.63,241.49 L87.88,240.49 L87.13,239.51 L86.37,238.55 L85.62,237.63 L84.87,236.73 L84.12,235.87 L83.36,235.04 L82.61,234.26 L81.86,233.52 L81.11,232.83 L80.35,232.18 L79.60,231.60 L79.60,231.60 L78.83,232.62 L78.06,233.69 L77.29,234.81 L76.51,235.96 L75.74,237.15 L74.97,238.36 L74.20,239.59 L73.43,240.83 L72.66,242.08 L71.89,243.34 L71.11,244.60 L70.34,245.84 L69.57,247.08 L68.80,248.31 L68.03,249.52 L67.26,250.70 L66.49,251.86 L65.71,252.99 L64.94,254.09 L64.17,255.16 L63.40,256.18 L62.63,257.16 L61.86,258.09 L61.09,258.97 L60.31,259.79 L59.54,260.56 L58.77,261.26 L58.00,261.90 Z" fill="#fde3e6" stroke="none"/>
<line x1="43.86" y1="231.65" x2="170.14" y2="231.65" stroke="#000" stroke-width="1.6" stroke-dasharray="6.79 7.07"/>
<path d="M58.00,243.00 L58.75,242.67 L59.51,242.30 L60.26,241.90 L61.02,241.48 L61.77,241.04 L62.53,240.57 L63.28,240.09 L64.03,239.60 L64.79,239.10 L65.54,238.59 L66.30,238.08 L67.05,237.57 L67.81,237.06 L68.56,236.56 L69.31,236.07 L70.07,235.60 L70.82,235.14 L71.58,234.70 L72.33,234.29 L73.09,233.90 L73.84,233.55 L74.59,233.23 L75.35,232.95 L76.10,232.70 L76.86,232.50 L77.61,232.35 L78.37,232.25 L79.12,232.21 L79.87,232.22 L80.63,232.29 L81.38,232.42 L82.14,232.62 L82.89,232.89 L83.65,233.21 L84.40,233.58 L85.15,234.00 L85.91,234.46 L86.66,234.96 L87.42,235.49 L88.17,236.05 L88.93,236.62 L89.68,237.22 L90.43,237.82 L91.19,238.43 L91.94,239.05 L92.70,239.67 L93.45,240.29 L94.21,240.91 L94.96,241.53 L95.71,242.13 L96.47,242.73 L97.22,243.32 L97.98,243.90 L98.73,244.47 L99.49,245.04 L100.24,245.60 L100.99,246.15 L101.75,246.69 L102.50,247.23 L103.26,247.76 L104.01,248.28 L104.77,248.79 L105.52,249.30 L106.27,249.80 L107.03,250.29 L107.78,250.78 L108.54,251.26 L109.29,251.73 L110.05,252.20 L110.80,252.66 L111.55,253.11 L112.31,253.56 L113.06,254.00 L113.82,254.43 L114.57,254.86 L115.33,255.28 L116.08,255.70 L116.83,256.11 L117.59,256.51 L118.34,256.91 L119.10,257.30 L119.85,257.69 L120.61,258.07 L121.36,258.45 L122.11,258.82 L122.87,259.18 L123.62,259.54 L124.38,259.90 L125.13,260.25 L125.89,260.59 L126.64,260.93 L127.39,261.27 L128.15,261.60 L128.90,261.92 L129.66,262.24 L130.41,262.56 L131.17,262.87 L131.92,263.18 L132.67,263.48 L133.43,263.78 L134.18,264.07 L134.94,264.36 L135.69,264.65 L136.45,264.93 L137.20,265.21 L137.95,265.48 L138.71,265.75 L139.46,266.02 L140.22,266.28 L140.97,266.54 L141.73,266.80 L142.48,267.05 L143.23,267.31 L143.99,267.55 L144.74,267.80 L145.50,268.04 L146.25,268.27 L147.01,268.51 L147.76,268.74 L148.51,268.97 L149.27,269.20 L150.02,269.42 L150.78,269.64 L151.53,269.86 L152.29,270.08 L153.04,270.29 L153.79,270.51 L154.55,270.72 L155.30,270.92 L156.06,271.13 L156.81,271.33 L157.57,271.54 L158.32,271.74 L159.07,271.94 L159.83,272.13 L160.58,272.33 L161.34,272.52 L162.09,272.72 L162.85,272.91 L163.60,273.10" fill="none" stroke="#f24046" stroke-width="1.75" stroke-linejoin="round" stroke-linecap="butt"/>
<path d="M43.86,182.10 L43.86,292.44 L170.14,292.44" fill="none" stroke="#000" stroke-width="1.55" stroke-linejoin="round"/>
<line x1="49.50" y1="292.44" x2="49.50" y2="296.74" stroke="#000" stroke-width="1.15"/>
<text x="49.50" y="311.04" text-anchor="middle" class="tk">0</text>
<line x1="78.22" y1="292.44" x2="78.22" y2="296.74" stroke="#000" stroke-width="1.15"/>
<text x="78.22" y="311.04" text-anchor="middle" class="tk">5</text>
<line x1="106.95" y1="292.44" x2="106.95" y2="296.74" stroke="#000" stroke-width="1.15"/>
<text x="106.95" y="311.04" text-anchor="middle" class="tk">10</text>
<line x1="135.68" y1="292.44" x2="135.68" y2="296.74" stroke="#000" stroke-width="1.15"/>
<text x="135.68" y="311.04" text-anchor="middle" class="tk">15</text>
<line x1="164.40" y1="292.44" x2="164.40" y2="296.74" stroke="#000" stroke-width="1.15"/>
<text x="164.40" y="311.04" text-anchor="middle" class="tk">20</text>
<line x1="39.56" y1="287.65" x2="43.86" y2="287.65" stroke="#000" stroke-width="1.15"/>
<text x="35.71" y="293.15" text-anchor="end" class="tk">0.0</text>
<line x1="39.56" y1="259.65" x2="43.86" y2="259.65" stroke="#000" stroke-width="1.15"/>
<text x="35.71" y="265.15" text-anchor="end" class="tk">0.5</text>
<line x1="39.56" y1="231.65" x2="43.86" y2="231.65" stroke="#000" stroke-width="1.15"/>
<text x="35.71" y="237.15" text-anchor="end" class="tk">1.0</text>
<line x1="39.56" y1="203.65" x2="43.86" y2="203.65" stroke="#000" stroke-width="1.15"/>
<text x="35.71" y="209.15" text-anchor="end" class="tk">1.5</text>
<text x="36.10" y="167.80" class="tt">(e) Corpus uteri</text></g>
<g><path d="M220.70,189.30 L221.46,190.16 L222.21,191.04 L222.97,191.94 L223.72,192.86 L224.48,193.80 L225.23,194.74 L225.99,195.70 L226.74,196.67 L227.50,197.64 L228.25,198.62 L229.01,199.60 L229.76,200.59 L230.52,201.58 L231.27,202.56 L232.03,203.54 L232.78,204.52 L233.54,205.49 L234.29,206.45 L235.05,207.40 L235.80,208.34 L236.56,209.26 L237.31,210.17 L238.07,211.05 L238.82,211.92 L239.58,212.77 L240.33,213.59 L241.09,214.39 L241.84,215.16 L242.60,215.90 L242.60,215.90 L243.35,215.77 L244.10,215.64 L244.85,215.51 L245.60,215.38 L246.35,215.25 L247.10,215.12 L247.85,214.99 L248.60,214.85 L249.35,214.72 L250.10,214.58 L250.85,214.45 L251.61,214.31 L252.36,214.17 L253.11,214.03 L253.86,213.89 L254.61,213.75 L255.36,213.60 L256.11,213.46 L256.86,213.31 L257.61,213.17 L258.36,213.02 L259.11,212.87 L259.86,212.72 L260.61,212.57 L261.36,212.42 L262.11,212.27 L262.86,212.11 L263.61,211.96 L264.36,211.80 L265.11,211.64 L265.86,211.49 L266.61,211.33 L267.36,211.17 L268.12,211.00 L268.87,210.84 L269.62,210.68 L270.37,210.51 L271.12,210.35 L271.87,210.18 L272.62,210.01 L273.37,209.84 L274.12,209.67 L274.87,209.50 L275.62,209.33 L276.37,209.15 L277.12,208.98 L277.87,208.80 L278.62,208.62 L279.37,208.44 L280.12,208.26 L280.87,208.08 L281.62,207.90 L282.37,207.71 L283.12,207.53 L283.87,207.34 L284.63,207.16 L285.38,206.97 L286.13,206.78 L286.88,206.59 L287.63,206.40 L288.38,206.21 L289.13,206.02 L289.88,205.83 L290.63,205.64 L291.38,205.44 L292.13,205.25 L292.88,205.06 L293.63,204.86 L294.38,204.67 L295.13,204.47 L295.88,204.28 L296.63,204.08 L297.38,203.88 L298.13,203.69 L298.88,203.49 L299.63,203.30 L300.38,203.10 L301.14,202.90 L301.89,202.71 L302.64,202.51 L303.39,202.31 L304.14,202.12 L304.89,201.92 L305.64,201.73 L306.39,201.53 L307.14,201.34 L307.89,201.14 L308.64,200.95 L309.39,200.76 L310.14,200.56 L310.89,200.37 L311.64,200.18 L312.39,199.99 L313.14,199.80 L313.89,199.61 L314.64,199.42 L315.39,199.23 L316.14,199.04 L316.89,198.85 L317.65,198.67 L318.40,198.48 L319.15,198.30 L319.90,198.12 L320.65,197.94 L321.40,197.76 L322.15,197.58 L322.90,197.40 L323.65,197.22 L324.40,197.05 L325.15,196.87 L325.90,196.70 L325.90,283.40 L325.15,283.27 L324.40,283.13 L323.65,283.00 L322.90,282.86 L322.15,282.72 L321.40,282.59 L320.65,282.45 L319.90,282.31 L319.15,282.17 L318.40,282.03 L317.65,281.88 L316.89,281.74 L316.14,281.59 L315.39,281.43 L314.64,281.28 L313.89,281.12 L313.14,280.96 L312.39,280.80 L311.64,280.63 L310.89,280.46 L310.14,280.29 L309.39,280.11 L308.64,279.93 L307.89,279.74 L307.14,279.55 L306.39,279.35 L305.64,279.15 L304.89,278.94 L304.14,278.73 L303.39,278.51 L302.64,278.28 L301.89,278.05 L301.14,277.82 L300.38,277.57 L299.63,277.32 L298.88,277.06 L298.13,276.80 L297.38,276.53 L296.63,276.25 L295.88,275.96 L295.13,275.67 L294.38,275.36 L293.63,275.05 L292.88,274.73 L292.13,274.40 L291.38,274.07 L290.63,273.72 L289.88,273.36 L289.13,273.00 L288.38,272.62 L287.63,272.24 L286.88,271.84 L286.13,271.43 L285.38,271.02 L284.63,270.59 L283.87,270.15 L283.12,269.70 L282.37,269.24 L281.62,268.77 L280.87,268.29 L280.12,267.79 L279.37,267.28 L278.62,266.76 L277.87,266.23 L277.12,265.68 L276.37,265.12 L275.62,264.55 L274.87,263.96 L274.12,263.37 L273.37,262.75 L272.62,262.13 L271.87,261.48 L271.12,260.83 L270.37,260.15 L269.62,259.46 L268.87,258.75 L268.12,258.01 L267.36,257.24 L266.61,256.44 L265.86,255.62 L265.11,254.75 L264.36,253.86 L263.61,252.92 L262.86,251.94 L262.11,250.91 L261.36,249.84 L260.61,248.73 L259.86,247.56 L259.11,246.33 L258.36,245.05 L257.61,243.72 L256.86,242.33 L256.11,240.90 L255.36,239.44 L254.61,237.94 L253.86,236.42 L253.11,234.89 L252.36,233.35 L251.61,231.80 L250.85,230.26 L250.10,228.73 L249.35,227.22 L248.60,225.73 L247.85,224.28 L247.10,222.88 L246.35,221.53 L245.60,220.24 L244.85,219.02 L244.10,217.88 L243.35,216.84 L242.60,215.90 L242.60,215.90 L241.84,216.90 L241.09,218.00 L240.33,219.19 L239.58,220.47 L238.82,221.83 L238.07,223.25 L237.31,224.73 L236.56,226.26 L235.80,227.83 L235.05,229.43 L234.29,231.06 L233.54,232.70 L232.78,234.35 L232.03,236.00 L231.27,237.64 L230.52,239.26 L229.76,240.85 L229.01,242.41 L228.25,243.92 L227.50,245.38 L226.74,246.78 L225.99,248.10 L225.23,249.35 L224.48,250.51 L223.72,251.58 L222.97,252.54 L222.21,253.38 L221.46,254.11 L220.70,254.70 Z" fill="#fde3e6" stroke="none"/>
<line x1="206.40" y1="215.91" x2="332.32" y2="215.91" stroke="#000" stroke-width="1.6" stroke-dasharray="6.73 7.00"/>
<path d="M220.70,230.90 L221.45,230.39 L222.21,229.85 L222.96,229.28 L223.72,228.69 L224.47,228.08 L225.22,227.46 L225.98,226.82 L226.73,226.17 L227.49,225.52 L228.24,224.87 L228.99,224.22 L229.75,223.57 L230.50,222.94 L231.26,222.32 L232.01,221.71 L232.76,221.12 L233.52,220.56 L234.27,220.02 L235.03,219.52 L235.78,219.05 L236.53,218.61 L237.29,218.22 L238.04,217.88 L238.79,217.58 L239.55,217.33 L240.30,217.14 L241.06,217.01 L241.81,216.95 L242.56,216.95 L243.32,217.02 L244.07,217.16 L244.83,217.38 L245.58,217.68 L246.33,218.07 L247.09,218.54 L247.84,219.08 L248.60,219.69 L249.35,220.35 L250.10,221.06 L250.86,221.80 L251.61,222.58 L252.37,223.38 L253.12,224.18 L253.87,224.99 L254.63,225.80 L255.38,226.59 L256.14,227.38 L256.89,228.15 L257.64,228.92 L258.40,229.68 L259.15,230.44 L259.91,231.18 L260.66,231.92 L261.41,232.64 L262.17,233.36 L262.92,234.07 L263.68,234.78 L264.43,235.47 L265.18,236.16 L265.94,236.83 L266.69,237.50 L267.45,238.17 L268.20,238.82 L268.95,239.47 L269.71,240.10 L270.46,240.73 L271.22,241.36 L271.97,241.97 L272.72,242.58 L273.48,243.18 L274.23,243.77 L274.98,244.36 L275.74,244.93 L276.49,245.50 L277.25,246.06 L278.00,246.62 L278.75,247.17 L279.51,247.71 L280.26,248.24 L281.02,248.77 L281.77,249.29 L282.52,249.80 L283.28,250.31 L284.03,250.81 L284.79,251.30 L285.54,251.78 L286.29,252.26 L287.05,252.73 L287.80,253.20 L288.56,253.66 L289.31,254.11 L290.06,254.56 L290.82,255.00 L291.57,255.43 L292.33,255.86 L293.08,256.28 L293.83,256.70 L294.59,257.10 L295.34,257.51 L296.10,257.90 L296.85,258.29 L297.60,258.68 L298.36,259.06 L299.11,259.43 L299.87,259.80 L300.62,260.16 L301.37,260.52 L302.13,260.87 L302.88,261.22 L303.64,261.56 L304.39,261.89 L305.14,262.22 L305.90,262.54 L306.65,262.86 L307.41,263.18 L308.16,263.49 L308.91,263.79 L309.67,264.09 L310.42,264.38 L311.17,264.67 L311.93,264.95 L312.68,265.23 L313.44,265.51 L314.19,265.78 L314.94,266.04 L315.70,266.30 L316.45,266.56 L317.21,266.81 L317.96,267.06 L318.71,267.30 L319.47,267.54 L320.22,267.77 L320.98,268.00 L321.73,268.23 L322.48,268.45 L323.24,268.67 L323.99,268.88 L324.75,269.09 L325.50,269.30" fill="none" stroke="#f24046" stroke-width="1.75" stroke-linejoin="round" stroke-linecap="butt"/>
<path d="M206.40,182.10 L206.40,292.60 L332.32,292.60" fill="none" stroke="#000" stroke-width="1.55" stroke-linejoin="round"/>
<line x1="212.10" y1="292.60" x2="212.10" y2="296.90" stroke="#000" stroke-width="1.15"/>
<text x="212.10" y="311.20" text-anchor="middle" class="tk">0</text>
<line x1="240.72" y1="292.60" x2="240.72" y2="296.90" stroke="#000" stroke-width="1.15"/>
<text x="240.72" y="311.20" text-anchor="middle" class="tk">5</text>
<line x1="269.35" y1="292.60" x2="269.35" y2="296.90" stroke="#000" stroke-width="1.15"/>
<text x="269.35" y="311.20" text-anchor="middle" class="tk">10</text>
<line x1="297.98" y1="292.60" x2="297.98" y2="296.90" stroke="#000" stroke-width="1.15"/>
<text x="297.98" y="311.20" text-anchor="middle" class="tk">15</text>
<line x1="326.60" y1="292.60" x2="326.60" y2="296.90" stroke="#000" stroke-width="1.15"/>
<text x="326.60" y="311.20" text-anchor="middle" class="tk">20</text>
<line x1="202.10" y1="287.86" x2="206.40" y2="287.86" stroke="#000" stroke-width="1.15"/>
<text x="198.15" y="293.36" text-anchor="end" class="tk">0.0</text>
<line x1="202.10" y1="251.89" x2="206.40" y2="251.89" stroke="#000" stroke-width="1.15"/>
<text x="198.15" y="257.38" text-anchor="end" class="tk">0.5</text>
<line x1="202.10" y1="215.91" x2="206.40" y2="215.91" stroke="#000" stroke-width="1.15"/>
<text x="198.15" y="221.41" text-anchor="end" class="tk">1.0</text>
<text x="199.40" y="167.80" class="tt">(f) Brain</text></g>
<g><path d="M391.20,191.90 L391.97,194.98 L392.74,197.91 L393.51,200.70 L394.28,203.36 L395.05,205.89 L395.82,208.29 L396.59,210.57 L397.36,212.73 L398.13,214.78 L398.90,216.72 L399.67,218.56 L400.44,220.29 L401.21,221.93 L401.98,223.48 L402.75,224.94 L403.52,226.31 L404.29,227.61 L405.06,228.83 L405.83,229.99 L406.60,231.07 L407.37,232.10 L408.14,233.07 L408.91,233.99 L409.68,234.86 L410.45,235.68 L411.22,236.47 L411.99,237.22 L412.76,237.94 L413.53,238.63 L414.30,239.30 L414.30,239.30 L415.05,239.16 L415.80,239.02 L416.56,238.87 L417.31,238.71 L418.06,238.54 L418.81,238.37 L419.56,238.19 L420.32,238.00 L421.07,237.80 L421.82,237.60 L422.57,237.39 L423.33,237.18 L424.08,236.96 L424.83,236.73 L425.58,236.49 L426.33,236.25 L427.09,236.01 L427.84,235.75 L428.59,235.49 L429.34,235.23 L430.09,234.95 L430.85,234.68 L431.60,234.39 L432.35,234.10 L433.10,233.81 L433.85,233.50 L434.61,233.20 L435.36,232.88 L436.11,232.57 L436.86,232.24 L437.62,231.91 L438.37,231.58 L439.12,231.24 L439.87,230.89 L440.62,230.54 L441.38,230.19 L442.13,229.83 L442.88,229.46 L443.63,229.09 L444.38,228.71 L445.14,228.33 L445.89,227.95 L446.64,227.56 L447.39,227.17 L448.14,226.77 L448.90,226.37 L449.65,225.96 L450.40,225.55 L451.15,225.13 L451.91,224.71 L452.66,224.29 L453.41,223.86 L454.16,223.43 L454.91,223.00 L455.67,222.56 L456.42,222.11 L457.17,221.67 L457.92,221.22 L458.67,220.76 L459.43,220.31 L460.18,219.85 L460.93,219.38 L461.68,218.92 L462.43,218.45 L463.19,217.97 L463.94,217.50 L464.69,217.02 L465.44,216.54 L466.19,216.05 L466.95,215.56 L467.70,215.07 L468.45,214.58 L469.20,214.09 L469.96,213.59 L470.71,213.09 L471.46,212.58 L472.21,212.08 L472.96,211.57 L473.72,211.06 L474.47,210.55 L475.22,210.04 L475.97,209.52 L476.72,209.00 L477.48,208.49 L478.23,207.96 L478.98,207.44 L479.73,206.92 L480.48,206.39 L481.24,205.86 L481.99,205.34 L482.74,204.81 L483.49,204.27 L484.25,203.74 L485.00,203.21 L485.75,202.67 L486.50,202.14 L487.25,201.60 L488.01,201.06 L488.76,200.53 L489.51,199.99 L490.26,199.45 L491.01,198.91 L491.77,198.37 L492.52,197.83 L493.27,197.28 L494.02,196.74 L494.77,196.20 L495.53,195.66 L496.28,195.12 L497.03,194.57 L497.78,194.03 L498.54,193.49 L499.29,192.95 L500.04,192.40 L500.79,191.86 L501.54,191.32 L502.30,190.78 L503.05,190.24 L503.80,189.70 L503.80,278.30 L503.05,278.10 L502.30,277.91 L501.54,277.71 L500.79,277.51 L500.04,277.31 L499.29,277.11 L498.54,276.91 L497.78,276.71 L497.03,276.50 L496.28,276.30 L495.53,276.09 L494.77,275.89 L494.02,275.68 L493.27,275.47 L492.52,275.26 L491.77,275.05 L491.01,274.84 L490.26,274.63 L489.51,274.41 L488.76,274.20 L488.01,273.98 L487.25,273.76 L486.50,273.54 L485.75,273.32 L485.00,273.09 L484.25,272.87 L483.49,272.64 L482.74,272.41 L481.99,272.18 L481.24,271.95 L480.48,271.72 L479.73,271.48 L478.98,271.24 L478.23,271.00 L477.48,270.76 L476.72,270.52 L475.97,270.27 L475.22,270.03 L474.47,269.78 L473.72,269.52 L472.96,269.27 L472.21,269.01 L471.46,268.75 L470.71,268.49 L469.96,268.23 L469.20,267.96 L468.45,267.69 L467.70,267.42 L466.95,267.15 L466.19,266.87 L465.44,266.59 L464.69,266.31 L463.94,266.03 L463.19,265.74 L462.43,265.45 L461.68,265.16 L460.93,264.87 L460.18,264.57 L459.43,264.27 L458.67,263.96 L457.92,263.65 L457.17,263.34 L456.42,263.03 L455.67,262.71 L454.91,262.39 L454.16,262.07 L453.41,261.75 L452.66,261.42 L451.91,261.08 L451.15,260.75 L450.40,260.41 L449.65,260.06 L448.90,259.72 L448.14,259.37 L447.39,259.01 L446.64,258.66 L445.89,258.30 L445.14,257.93 L444.38,257.56 L443.63,257.19 L442.88,256.81 L442.13,256.44 L441.38,256.05 L440.62,255.66 L439.87,255.27 L439.12,254.88 L438.37,254.48 L437.62,254.07 L436.86,253.66 L436.11,253.25 L435.36,252.84 L434.61,252.42 L433.85,251.99 L433.10,251.56 L432.35,251.13 L431.60,250.69 L430.85,250.25 L430.09,249.80 L429.34,249.35 L428.59,248.89 L427.84,248.43 L427.09,247.97 L426.33,247.50 L425.58,247.02 L424.83,246.54 L424.08,246.06 L423.33,245.57 L422.57,245.07 L421.82,244.57 L421.07,244.07 L420.32,243.56 L419.56,243.05 L418.81,242.53 L418.06,242.00 L417.31,241.47 L416.56,240.94 L415.80,240.40 L415.05,239.85 L414.30,239.30 L414.30,239.30 L413.53,239.83 L412.76,240.39 L411.99,240.98 L411.22,241.58 L410.45,242.21 L409.68,242.85 L408.91,243.50 L408.14,244.17 L407.37,244.84 L406.60,245.52 L405.83,246.20 L405.06,246.89 L404.29,247.57 L403.52,248.25 L402.75,248.92 L401.98,249.59 L401.21,250.24 L400.44,250.88 L399.67,251.50 L398.90,252.10 L398.13,252.68 L397.36,253.23 L396.59,253.76 L395.82,254.26 L395.05,254.73 L394.28,255.16 L393.51,255.56 L392.74,255.92 L391.97,256.23 L391.20,256.50 Z" fill="#fde3e6" stroke="none"/>
<line x1="376.04" y1="239.55" x2="510.25" y2="239.55" stroke="#000" stroke-width="1.6" stroke-dasharray="7.21 7.51"/>
<path d="M391.20,234.00 L391.95,234.21 L392.70,234.42 L393.45,234.63 L394.20,234.84 L394.95,235.04 L395.70,235.25 L396.45,235.45 L397.21,235.66 L397.96,235.86 L398.71,236.06 L399.46,236.26 L400.21,236.46 L400.96,236.66 L401.71,236.86 L402.46,237.06 L403.21,237.26 L403.96,237.45 L404.71,237.65 L405.46,237.84 L406.21,238.04 L406.96,238.23 L407.71,238.42 L408.47,238.61 L409.22,238.80 L409.97,238.99 L410.72,239.18 L411.47,239.37 L412.22,239.56 L412.97,239.75 L413.72,239.93 L414.47,240.12 L415.22,240.30 L415.97,240.48 L416.72,240.67 L417.47,240.85 L418.22,241.03 L418.97,241.21 L419.73,241.39 L420.48,241.57 L421.23,241.75 L421.98,241.92 L422.73,242.10 L423.48,242.28 L424.23,242.45 L424.98,242.63 L425.73,242.80 L426.48,242.97 L427.23,243.15 L427.98,243.32 L428.73,243.49 L429.48,243.66 L430.23,243.83 L430.99,244.00 L431.74,244.17 L432.49,244.34 L433.24,244.50 L433.99,244.67 L434.74,244.83 L435.49,245.00 L436.24,245.16 L436.99,245.33 L437.74,245.49 L438.49,245.65 L439.24,245.82 L439.99,245.98 L440.74,246.14 L441.49,246.30 L442.25,246.46 L443.00,246.62 L443.75,246.77 L444.50,246.93 L445.25,247.09 L446.00,247.25 L446.75,247.40 L447.50,247.56 L448.25,247.71 L449.00,247.87 L449.75,248.02 L450.50,248.17 L451.25,248.33 L452.00,248.48 L452.75,248.63 L453.51,248.78 L454.26,248.93 L455.01,249.08 L455.76,249.23 L456.51,249.38 L457.26,249.53 L458.01,249.67 L458.76,249.82 L459.51,249.97 L460.26,250.11 L461.01,250.26 L461.76,250.41 L462.51,250.55 L463.26,250.69 L464.01,250.84 L464.77,250.98 L465.52,251.12 L466.27,251.27 L467.02,251.41 L467.77,251.55 L468.52,251.69 L469.27,251.83 L470.02,251.97 L470.77,252.11 L471.52,252.25 L472.27,252.39 L473.02,252.53 L473.77,252.67 L474.52,252.80 L475.27,252.94 L476.03,253.08 L476.78,253.22 L477.53,253.35 L478.28,253.49 L479.03,253.62 L479.78,253.76 L480.53,253.89 L481.28,254.03 L482.03,254.16 L482.78,254.29 L483.53,254.43 L484.28,254.56 L485.03,254.69 L485.78,254.82 L486.53,254.95 L487.29,255.09 L488.04,255.22 L488.79,255.35 L489.54,255.48 L490.29,255.61 L491.04,255.74 L491.79,255.87 L492.54,256.00 L493.29,256.13 L494.04,256.25 L494.79,256.38 L495.54,256.51 L496.29,256.64 L497.04,256.77 L497.79,256.89 L498.55,257.02 L499.30,257.15 L500.05,257.27 L500.80,257.40 L501.55,257.52 L502.30,257.65 L503.05,257.77 L503.80,257.90" fill="none" stroke="#f24046" stroke-width="1.75" stroke-linejoin="round" stroke-linecap="butt"/>
<path d="M376.04,182.10 L376.04,292.44 L510.25,292.44" fill="none" stroke="#000" stroke-width="1.55" stroke-linejoin="round"/>
<line x1="382.15" y1="292.44" x2="382.15" y2="296.74" stroke="#000" stroke-width="1.15"/>
<text x="382.15" y="311.04" text-anchor="middle" class="tk">0</text>
<line x1="412.65" y1="292.44" x2="412.65" y2="296.74" stroke="#000" stroke-width="1.15"/>
<text x="412.65" y="311.04" text-anchor="middle" class="tk">5</text>
<line x1="443.15" y1="292.44" x2="443.15" y2="296.74" stroke="#000" stroke-width="1.15"/>
<text x="443.15" y="311.04" text-anchor="middle" class="tk">10</text>
<line x1="473.65" y1="292.44" x2="473.65" y2="296.74" stroke="#000" stroke-width="1.15"/>
<text x="473.65" y="311.04" text-anchor="middle" class="tk">15</text>
<line x1="504.15" y1="292.44" x2="504.15" y2="296.74" stroke="#000" stroke-width="1.15"/>
<text x="504.15" y="311.04" text-anchor="middle" class="tk">20</text>
<line x1="371.74" y1="287.65" x2="376.04" y2="287.65" stroke="#000" stroke-width="1.15"/>
<text x="366.79" y="293.15" text-anchor="end" class="tk">0.0</text>
<line x1="371.74" y1="263.60" x2="376.04" y2="263.60" stroke="#000" stroke-width="1.15"/>
<text x="366.79" y="269.10" text-anchor="end" class="tk">0.5</text>
<line x1="371.74" y1="239.55" x2="376.04" y2="239.55" stroke="#000" stroke-width="1.15"/>
<text x="366.79" y="245.05" text-anchor="end" class="tk">1.0</text>
<line x1="371.74" y1="215.50" x2="376.04" y2="215.50" stroke="#000" stroke-width="1.15"/>
<text x="366.79" y="221.00" text-anchor="end" class="tk">1.5</text>
<line x1="371.74" y1="191.45" x2="376.04" y2="191.45" stroke="#000" stroke-width="1.15"/>
<text x="366.79" y="196.95" text-anchor="end" class="tk">2.0</text>
<text x="362.50" y="167.80" class="tt">(g) NHL</text></g>
<g><path d="M564.30,206.50 L565.07,210.78 L565.84,214.81 L566.62,218.61 L567.39,222.18 L568.16,225.55 L568.93,228.71 L569.70,231.68 L570.47,234.47 L571.25,237.10 L572.02,239.56 L572.79,241.87 L573.56,244.05 L574.33,246.10 L575.11,248.04 L575.88,249.87 L576.65,251.61 L577.42,253.25 L578.19,254.81 L578.97,256.28 L579.74,257.66 L580.51,258.96 L581.28,260.17 L582.05,261.29 L582.83,262.33 L583.60,263.29 L584.37,264.16 L585.14,264.95 L585.91,265.66 L586.68,266.29 L587.46,266.84 L588.23,267.31 L589.00,267.70 L589.00,267.70 L589.75,267.59 L590.51,267.46 L591.26,267.32 L592.01,267.16 L592.77,266.99 L593.52,266.81 L594.27,266.61 L595.03,266.40 L595.78,266.18 L596.53,265.94 L597.29,265.69 L598.04,265.43 L598.79,265.16 L599.55,264.87 L600.30,264.57 L601.05,264.26 L601.81,263.93 L602.56,263.59 L603.31,263.24 L604.07,262.88 L604.82,262.51 L605.57,262.12 L606.33,261.72 L607.08,261.31 L607.83,260.89 L608.59,260.46 L609.34,260.01 L610.09,259.55 L610.84,259.09 L611.60,258.61 L612.35,258.11 L613.10,257.61 L613.86,257.10 L614.61,256.57 L615.36,256.04 L616.12,255.49 L616.87,254.94 L617.62,254.37 L618.38,253.79 L619.13,253.20 L619.88,252.60 L620.64,251.99 L621.39,251.37 L622.14,250.74 L622.90,250.09 L623.65,249.44 L624.40,248.77 L625.16,248.10 L625.91,247.41 L626.66,246.72 L627.42,246.01 L628.17,245.29 L628.92,244.56 L629.68,243.82 L630.43,243.07 L631.18,242.30 L631.94,241.53 L632.69,240.74 L633.44,239.95 L634.20,239.14 L634.95,238.32 L635.70,237.50 L636.46,236.66 L637.21,235.80 L637.96,234.94 L638.72,234.07 L639.47,233.19 L640.22,232.29 L640.98,231.38 L641.73,230.47 L642.48,229.54 L643.24,228.60 L643.99,227.65 L644.74,226.69 L645.50,225.71 L646.25,224.73 L647.00,223.73 L647.76,222.72 L648.51,221.71 L649.26,220.68 L650.01,219.64 L650.77,218.58 L651.52,217.52 L652.27,216.44 L653.03,215.36 L653.78,214.26 L654.53,213.15 L655.29,212.03 L656.04,210.90 L656.79,209.75 L657.55,208.60 L658.30,207.43 L659.05,206.26 L659.81,205.07 L660.56,203.87 L661.31,202.66 L662.07,201.43 L662.82,200.20 L663.57,198.96 L664.33,197.70 L665.08,196.43 L665.83,195.16 L666.59,193.87 L667.34,192.57 L668.09,191.25 L668.85,189.93 L669.60,188.60 L669.60,281.90 L668.85,281.89 L668.09,281.87 L667.34,281.85 L666.59,281.83 L665.83,281.81 L665.08,281.78 L664.33,281.75 L663.57,281.72 L662.82,281.68 L662.07,281.64 L661.31,281.60 L660.56,281.55 L659.81,281.51 L659.05,281.46 L658.30,281.40 L657.55,281.35 L656.79,281.29 L656.04,281.23 L655.29,281.16 L654.53,281.10 L653.78,281.03 L653.03,280.96 L652.27,280.88 L651.52,280.80 L650.77,280.73 L650.01,280.64 L649.26,280.56 L648.51,280.47 L647.76,280.38 L647.00,280.29 L646.25,280.20 L645.50,280.10 L644.74,280.00 L643.99,279.90 L643.24,279.79 L642.48,279.69 L641.73,279.58 L640.98,279.47 L640.22,279.36 L639.47,279.24 L638.72,279.13 L637.96,279.01 L637.21,278.88 L636.46,278.76 L635.70,278.64 L634.95,278.51 L634.20,278.38 L633.44,278.25 L632.69,278.11 L631.94,277.98 L631.18,277.84 L630.43,277.70 L629.68,277.56 L628.92,277.41 L628.17,277.27 L627.42,277.12 L626.66,276.97 L625.91,276.82 L625.16,276.67 L624.40,276.52 L623.65,276.36 L622.90,276.20 L622.14,276.04 L621.39,275.88 L620.64,275.72 L619.88,275.55 L619.13,275.39 L618.38,275.22 L617.62,275.05 L616.87,274.88 L616.12,274.71 L615.36,274.54 L614.61,274.36 L613.86,274.18 L613.10,274.01 L612.35,273.83 L611.60,273.65 L610.84,273.46 L610.09,273.28 L609.34,273.10 L608.59,272.91 L607.83,272.72 L607.08,272.53 L606.33,272.35 L605.57,272.15 L604.82,271.96 L604.07,271.77 L603.31,271.57 L602.56,271.38 L601.81,271.18 L601.05,270.99 L600.30,270.79 L599.55,270.59 L598.79,270.39 L598.04,270.19 L597.29,269.98 L596.53,269.78 L595.78,269.58 L595.03,269.37 L594.27,269.16 L593.52,268.96 L592.77,268.75 L592.01,268.54 L591.26,268.33 L590.51,268.12 L589.75,267.91 L589.00,267.70 L589.00,267.70 L588.23,267.70 L587.46,267.70 L586.68,267.70 L585.91,267.70 L585.14,267.70 L584.37,267.70 L583.60,267.70 L582.83,267.70 L582.05,267.70 L581.28,267.70 L580.51,267.70 L579.74,267.70 L578.97,267.70 L578.19,267.70 L577.42,267.70 L576.65,267.70 L575.88,267.70 L575.11,267.70 L574.33,267.70 L573.56,267.70 L572.79,267.70 L572.02,267.70 L571.25,267.70 L570.47,267.70 L569.70,267.70 L568.93,267.70 L568.16,267.70 L567.39,267.70 L566.62,267.70 L565.84,267.70 L565.07,267.70 L564.30,267.70 Z" fill="#fde3e6" stroke="none"/>
<line x1="548.95" y1="267.68" x2="684.10" y2="267.68" stroke="#000" stroke-width="1.6" stroke-dasharray="6.67 6.95"/>
<path d="M564.30,247.40 L565.05,248.13 L565.80,248.86 L566.55,249.60 L567.31,250.33 L568.06,251.07 L568.81,251.81 L569.56,252.56 L570.31,253.30 L571.06,254.05 L571.81,254.81 L572.56,255.56 L573.32,256.31 L574.07,257.07 L574.82,257.82 L575.57,258.59 L576.32,259.38 L577.07,260.18 L577.82,260.96 L578.58,261.72 L579.33,262.44 L580.08,263.10 L580.83,263.71 L581.58,264.32 L582.33,264.90 L583.08,265.45 L583.83,265.96 L584.59,266.41 L585.34,266.79 L586.09,267.10 L586.84,267.40 L587.59,267.68 L588.34,267.93 L589.09,268.15 L589.85,268.32 L590.60,268.45 L591.35,268.53 L592.10,268.60 L592.85,268.66 L593.60,268.72 L594.35,268.78 L595.10,268.83 L595.86,268.87 L596.61,268.91 L597.36,268.94 L598.11,268.96 L598.86,268.98 L599.61,268.99 L600.36,269.00 L601.12,268.99 L601.87,268.97 L602.62,268.94 L603.37,268.89 L604.12,268.83 L604.87,268.77 L605.62,268.70 L606.37,268.63 L607.13,268.55 L607.88,268.48 L608.63,268.41 L609.38,268.35 L610.13,268.29 L610.88,268.24 L611.63,268.18 L612.39,268.13 L613.14,268.08 L613.89,268.02 L614.64,267.97 L615.39,267.92 L616.14,267.87 L616.89,267.82 L617.64,267.76 L618.40,267.71 L619.15,267.66 L619.90,267.61 L620.65,267.56 L621.40,267.50 L622.15,267.45 L622.90,267.40 L623.66,267.35 L624.41,267.30 L625.16,267.24 L625.91,267.19 L626.66,267.14 L627.41,267.09 L628.16,267.04 L628.91,266.98 L629.67,266.93 L630.42,266.88 L631.17,266.83 L631.92,266.78 L632.67,266.72 L633.42,266.67 L634.17,266.62 L634.93,266.57 L635.68,266.51 L636.43,266.46 L637.18,266.41 L637.93,266.36 L638.68,266.30 L639.43,266.25 L640.18,266.20 L640.94,266.14 L641.69,266.09 L642.44,266.03 L643.19,265.97 L643.94,265.92 L644.69,265.86 L645.44,265.80 L646.20,265.74 L646.95,265.68 L647.70,265.62 L648.45,265.56 L649.20,265.50 L649.95,265.44 L650.70,265.38 L651.45,265.32 L652.21,265.26 L652.96,265.21 L653.71,265.15 L654.46,265.10 L655.21,265.04 L655.96,264.99 L656.71,264.94 L657.47,264.89 L658.22,264.84 L658.97,264.79 L659.72,264.75 L660.47,264.70 L661.22,264.65 L661.97,264.61 L662.72,264.56 L663.48,264.51 L664.23,264.47 L664.98,264.43 L665.73,264.38 L666.48,264.34 L667.23,264.30 L667.98,264.25 L668.74,264.21 L669.49,264.17 L670.24,264.13 L670.99,264.09 L671.74,264.05 L672.49,264.01 L673.24,263.98 L673.99,263.94 L674.75,263.90 L675.50,263.87 L676.25,263.83 L677.00,263.80" fill="none" stroke="#f24046" stroke-width="1.75" stroke-linejoin="round" stroke-linecap="butt"/>
<path d="M548.95,183.50 L548.95,292.23 L684.10,292.23" fill="none" stroke="#000" stroke-width="1.55" stroke-linejoin="round"/>
<line x1="555.03" y1="292.23" x2="555.03" y2="296.53" stroke="#000" stroke-width="1.15"/>
<text x="555.03" y="310.83" text-anchor="middle" class="tk">0</text>
<line x1="585.76" y1="292.23" x2="585.76" y2="296.53" stroke="#000" stroke-width="1.15"/>
<text x="585.76" y="310.83" text-anchor="middle" class="tk">5</text>
<line x1="616.49" y1="292.23" x2="616.49" y2="296.53" stroke="#000" stroke-width="1.15"/>
<text x="616.49" y="310.83" text-anchor="middle" class="tk">10</text>
<line x1="647.22" y1="292.23" x2="647.22" y2="296.53" stroke="#000" stroke-width="1.15"/>
<text x="647.22" y="310.83" text-anchor="middle" class="tk">15</text>
<line x1="677.95" y1="292.23" x2="677.95" y2="296.53" stroke="#000" stroke-width="1.15"/>
<text x="677.95" y="310.83" text-anchor="middle" class="tk">20</text>
<line x1="544.65" y1="287.50" x2="548.95" y2="287.50" stroke="#000" stroke-width="1.15"/>
<text x="541.20" y="293.00" text-anchor="end" class="tk">0</text>
<line x1="544.65" y1="267.68" x2="548.95" y2="267.68" stroke="#000" stroke-width="1.15"/>
<text x="541.20" y="273.18" text-anchor="end" class="tk">1</text>
<line x1="544.65" y1="247.86" x2="548.95" y2="247.86" stroke="#000" stroke-width="1.15"/>
<text x="541.20" y="253.36" text-anchor="end" class="tk">2</text>
<line x1="544.65" y1="228.04" x2="548.95" y2="228.04" stroke="#000" stroke-width="1.15"/>
<text x="541.20" y="233.54" text-anchor="end" class="tk">3</text>
<line x1="544.65" y1="208.22" x2="548.95" y2="208.22" stroke="#000" stroke-width="1.15"/>
<text x="541.20" y="213.72" text-anchor="end" class="tk">4</text>
<line x1="544.65" y1="188.40" x2="548.95" y2="188.40" stroke="#000" stroke-width="1.15"/>
<text x="541.20" y="193.90" text-anchor="end" class="tk">5</text>
<text x="541.20" y="167.80" class="tt">(h) Liver</text></g>
<g><path d="M57.40,375.50 L58.16,375.77 L58.91,376.05 L59.67,376.33 L60.43,376.60 L61.18,376.89 L61.94,377.17 L62.70,377.45 L63.45,377.74 L64.21,378.03 L64.97,378.32 L65.72,378.61 L66.48,378.90 L67.24,379.20 L67.99,379.49 L68.75,379.79 L69.51,380.09 L70.26,380.40 L71.02,380.70 L71.78,381.01 L72.53,381.32 L73.29,381.63 L74.05,381.94 L74.80,382.25 L75.56,382.57 L76.32,382.89 L77.07,383.20 L77.83,383.53 L78.59,383.85 L79.34,384.17 L80.10,384.50 L80.10,384.50 L80.85,384.35 L81.60,384.19 L82.35,384.03 L83.10,383.88 L83.85,383.71 L84.61,383.55 L85.36,383.38 L86.11,383.21 L86.86,383.04 L87.61,382.87 L88.36,382.70 L89.11,382.52 L89.86,382.34 L90.61,382.16 L91.36,381.98 L92.11,381.80 L92.87,381.61 L93.62,381.42 L94.37,381.24 L95.12,381.05 L95.87,380.85 L96.62,380.66 L97.37,380.47 L98.12,380.27 L98.87,380.07 L99.62,379.87 L100.37,379.67 L101.13,379.47 L101.88,379.27 L102.63,379.07 L103.38,378.86 L104.13,378.66 L104.88,378.45 L105.63,378.24 L106.38,378.04 L107.13,377.83 L107.88,377.62 L108.63,377.41 L109.39,377.20 L110.14,376.99 L110.89,376.77 L111.64,376.56 L112.39,376.35 L113.14,376.13 L113.89,375.92 L114.64,375.70 L115.39,375.49 L116.14,375.27 L116.89,375.06 L117.65,374.84 L118.40,374.63 L119.15,374.41 L119.90,374.20 L120.65,373.98 L121.40,373.77 L122.15,373.55 L122.90,373.34 L123.65,373.12 L124.40,372.91 L125.15,372.69 L125.91,372.48 L126.66,372.26 L127.41,372.05 L128.16,371.84 L128.91,371.63 L129.66,371.41 L130.41,371.20 L131.16,370.99 L131.91,370.78 L132.66,370.58 L133.41,370.37 L134.17,370.16 L134.92,369.95 L135.67,369.75 L136.42,369.54 L137.17,369.34 L137.92,369.14 L138.67,368.94 L139.42,368.74 L140.17,368.54 L140.92,368.34 L141.67,368.15 L142.43,367.95 L143.18,367.76 L143.93,367.57 L144.68,367.38 L145.43,367.19 L146.18,367.00 L146.93,366.82 L147.68,366.64 L148.43,366.45 L149.18,366.27 L149.93,366.10 L150.69,365.92 L151.44,365.75 L152.19,365.57 L152.94,365.40 L153.69,365.24 L154.44,365.07 L155.19,364.91 L155.94,364.74 L156.69,364.59 L157.44,364.43 L158.19,364.27 L158.95,364.12 L159.70,363.97 L160.45,363.83 L161.20,363.68 L161.95,363.54 L162.70,363.40 L162.70,438.70 L161.95,438.40 L161.20,438.10 L160.45,437.81 L159.70,437.52 L158.95,437.23 L158.19,436.95 L157.44,436.67 L156.69,436.39 L155.94,436.11 L155.19,435.83 L154.44,435.55 L153.69,435.28 L152.94,435.01 L152.19,434.73 L151.44,434.46 L150.69,434.18 L149.93,433.91 L149.18,433.64 L148.43,433.36 L147.68,433.09 L146.93,432.81 L146.18,432.53 L145.43,432.25 L144.68,431.97 L143.93,431.68 L143.18,431.39 L142.43,431.10 L141.67,430.81 L140.92,430.51 L140.17,430.21 L139.42,429.91 L138.67,429.60 L137.92,429.29 L137.17,428.98 L136.42,428.65 L135.67,428.33 L134.92,428.00 L134.17,427.66 L133.41,427.32 L132.66,426.97 L131.91,426.62 L131.16,426.26 L130.41,425.89 L129.66,425.51 L128.91,425.13 L128.16,424.74 L127.41,424.35 L126.66,423.94 L125.91,423.53 L125.15,423.11 L124.40,422.68 L123.65,422.24 L122.90,421.79 L122.15,421.33 L121.40,420.86 L120.65,420.39 L119.90,419.90 L119.15,419.40 L118.40,418.89 L117.65,418.37 L116.89,417.84 L116.14,417.30 L115.39,416.75 L114.64,416.18 L113.89,415.60 L113.14,415.01 L112.39,414.41 L111.64,413.80 L110.89,413.18 L110.14,412.54 L109.39,411.90 L108.63,411.25 L107.88,410.59 L107.13,409.92 L106.38,409.24 L105.63,408.56 L104.88,407.87 L104.13,407.17 L103.38,406.47 L102.63,405.76 L101.88,405.05 L101.13,404.33 L100.37,403.61 L99.62,402.89 L98.87,402.16 L98.12,401.43 L97.37,400.70 L96.62,399.97 L95.87,399.23 L95.12,398.50 L94.37,397.77 L93.62,397.03 L92.87,396.30 L92.11,395.57 L91.36,394.84 L90.61,394.12 L89.86,393.40 L89.11,392.68 L88.36,391.96 L87.61,391.25 L86.86,390.54 L86.11,389.84 L85.36,389.15 L84.61,388.46 L83.85,387.78 L83.10,387.11 L82.35,386.44 L81.60,385.78 L80.85,385.14 L80.10,384.50 L80.10,384.50 L79.34,384.90 L78.59,385.37 L77.83,385.91 L77.07,386.52 L76.32,387.19 L75.56,387.91 L74.80,388.69 L74.05,389.51 L73.29,390.38 L72.53,391.28 L71.78,392.21 L71.02,393.16 L70.26,394.14 L69.51,395.13 L68.75,396.13 L67.99,397.14 L67.24,398.15 L66.48,399.15 L65.72,400.15 L64.97,401.13 L64.21,402.09 L63.45,403.02 L62.70,403.93 L61.94,404.80 L61.18,405.63 L60.43,406.41 L59.67,407.15 L58.91,407.83 L58.16,408.45 L57.40,409.00 Z" fill="#fde3e6" stroke="none"/>
<line x1="43.14" y1="384.40" x2="168.75" y2="384.40" stroke="#000" stroke-width="1.6" stroke-dasharray="6.76 7.04"/>
<path d="M57.40,394.60 L58.15,394.37 L58.90,394.12 L59.66,393.83 L60.41,393.53 L61.16,393.20 L61.91,392.85 L62.66,392.47 L63.42,392.08 L64.17,391.67 L64.92,391.25 L65.67,390.81 L66.43,390.35 L67.18,389.88 L67.93,389.41 L68.68,388.92 L69.43,388.44 L70.19,387.95 L70.94,387.48 L71.69,387.03 L72.44,386.60 L73.19,386.20 L73.95,385.84 L74.70,385.51 L75.45,385.24 L76.20,385.01 L76.96,384.85 L77.71,384.74 L78.46,384.69 L79.21,384.69 L79.96,384.74 L80.72,384.84 L81.47,384.98 L82.22,385.15 L82.97,385.37 L83.72,385.61 L84.48,385.88 L85.23,386.18 L85.98,386.49 L86.73,386.83 L87.49,387.17 L88.24,387.53 L88.99,387.90 L89.74,388.27 L90.49,388.63 L91.25,389.00 L92.00,389.37 L92.75,389.73 L93.50,390.10 L94.25,390.46 L95.01,390.82 L95.76,391.18 L96.51,391.54 L97.26,391.89 L98.02,392.25 L98.77,392.60 L99.52,392.96 L100.27,393.31 L101.02,393.66 L101.78,394.01 L102.53,394.35 L103.28,394.70 L104.03,395.04 L104.78,395.38 L105.54,395.73 L106.29,396.07 L107.04,396.40 L107.79,396.74 L108.55,397.07 L109.30,397.41 L110.05,397.74 L110.80,398.07 L111.55,398.40 L112.31,398.73 L113.06,399.05 L113.81,399.38 L114.56,399.70 L115.31,400.02 L116.07,400.34 L116.82,400.66 L117.57,400.97 L118.32,401.29 L119.08,401.60 L119.83,401.91 L120.58,402.22 L121.33,402.52 L122.08,402.83 L122.84,403.13 L123.59,403.43 L124.34,403.73 L125.09,404.03 L125.84,404.33 L126.60,404.62 L127.35,404.92 L128.10,405.21 L128.85,405.50 L129.61,405.78 L130.36,406.07 L131.11,406.35 L131.86,406.63 L132.61,406.91 L133.37,407.19 L134.12,407.47 L134.87,407.74 L135.62,408.01 L136.37,408.28 L137.13,408.55 L137.88,408.82 L138.63,409.08 L139.38,409.34 L140.14,409.60 L140.89,409.86 L141.64,410.12 L142.39,410.37 L143.14,410.62 L143.90,410.87 L144.65,411.12 L145.40,411.37 L146.15,411.61 L146.90,411.85 L147.66,412.09 L148.41,412.33 L149.16,412.56 L149.91,412.79 L150.67,413.02 L151.42,413.25 L152.17,413.48 L152.92,413.70 L153.67,413.92 L154.43,414.14 L155.18,414.36 L155.93,414.57 L156.68,414.79 L157.43,415.00 L158.19,415.20 L158.94,415.41 L159.69,415.61 L160.44,415.81 L161.20,416.01 L161.95,416.21 L162.70,416.40" fill="none" stroke="#f24046" stroke-width="1.75" stroke-linejoin="round" stroke-linecap="butt"/>
<path d="M43.14,344.80 L43.14,453.80 L168.75,453.80" fill="none" stroke="#000" stroke-width="1.55" stroke-linejoin="round"/>
<line x1="48.90" y1="453.80" x2="48.90" y2="458.10" stroke="#000" stroke-width="1.15"/>
<text x="48.90" y="472.40" text-anchor="middle" class="tk">0</text>
<line x1="77.44" y1="453.80" x2="77.44" y2="458.10" stroke="#000" stroke-width="1.15"/>
<text x="77.44" y="472.40" text-anchor="middle" class="tk">5</text>
<line x1="105.97" y1="453.80" x2="105.97" y2="458.10" stroke="#000" stroke-width="1.15"/>
<text x="105.97" y="472.40" text-anchor="middle" class="tk">10</text>
<line x1="134.50" y1="453.80" x2="134.50" y2="458.10" stroke="#000" stroke-width="1.15"/>
<text x="134.50" y="472.40" text-anchor="middle" class="tk">15</text>
<line x1="163.04" y1="453.80" x2="163.04" y2="458.10" stroke="#000" stroke-width="1.15"/>
<text x="163.04" y="472.40" text-anchor="middle" class="tk">20</text>
<line x1="38.84" y1="427.54" x2="43.14" y2="427.54" stroke="#000" stroke-width="1.15"/>
<text x="34.99" y="433.04" text-anchor="end" class="tk">0.4</text>
<line x1="38.84" y1="398.78" x2="43.14" y2="398.78" stroke="#000" stroke-width="1.15"/>
<text x="34.99" y="404.28" text-anchor="end" class="tk">0.8</text>
<line x1="38.84" y1="370.02" x2="43.14" y2="370.02" stroke="#000" stroke-width="1.15"/>
<text x="34.99" y="375.52" text-anchor="end" class="tk">1.2</text>
<text x="36.10" y="338.50" class="tt">(i) Breast</text></g>
<g><path d="M221.90,416.20 L222.68,416.81 L223.45,417.42 L224.22,418.02 L225.00,418.61 L225.78,419.20 L226.55,419.79 L227.33,420.37 L228.10,420.95 L228.88,421.52 L229.65,422.08 L230.43,422.65 L231.20,423.20 L231.97,423.75 L232.75,424.30 L233.53,424.84 L234.30,425.38 L235.07,425.91 L235.85,426.44 L236.62,426.96 L237.40,427.48 L238.18,427.99 L238.95,428.50 L239.72,429.00 L240.50,429.50 L240.50,429.50 L241.25,429.45 L242.01,429.38 L242.76,429.31 L243.52,429.22 L244.27,429.13 L245.02,429.03 L245.78,428.92 L246.53,428.80 L247.28,428.67 L248.04,428.54 L248.79,428.39 L249.55,428.24 L250.30,428.08 L251.05,427.90 L251.81,427.72 L252.56,427.53 L253.32,427.34 L254.07,427.13 L254.82,426.91 L255.58,426.69 L256.33,426.46 L257.08,426.22 L257.84,425.97 L258.59,425.71 L259.35,425.44 L260.10,425.17 L260.85,424.88 L261.61,424.59 L262.36,424.29 L263.12,423.98 L263.87,423.66 L264.62,423.34 L265.38,423.00 L266.13,422.66 L266.88,422.31 L267.64,421.95 L268.39,421.59 L269.15,421.21 L269.90,420.83 L270.65,420.44 L271.41,420.04 L272.16,419.63 L272.92,419.22 L273.67,418.79 L274.42,418.36 L275.18,417.92 L275.93,417.48 L276.68,417.02 L277.44,416.56 L278.19,416.09 L278.95,415.61 L279.70,415.13 L280.45,414.63 L281.21,414.13 L281.96,413.62 L282.72,413.11 L283.47,412.58 L284.22,412.05 L284.98,411.51 L285.73,410.96 L286.48,410.41 L287.24,409.84 L287.99,409.27 L288.75,408.70 L289.50,408.11 L290.25,407.52 L291.01,406.92 L291.76,406.31 L292.52,405.70 L293.27,405.08 L294.02,404.45 L294.78,403.81 L295.53,403.17 L296.28,402.52 L297.04,401.86 L297.79,401.20 L298.55,400.53 L299.30,399.85 L300.05,399.17 L300.81,398.48 L301.56,397.78 L302.32,397.08 L303.07,396.37 L303.82,395.66 L304.58,394.94 L305.33,394.21 L306.08,393.48 L306.84,392.75 L307.59,392.01 L308.35,391.26 L309.10,390.51 L309.85,389.75 L310.61,388.99 L311.36,388.23 L312.12,387.46 L312.87,386.68 L313.62,385.90 L314.38,385.12 L315.13,384.34 L315.88,383.55 L316.64,382.75 L317.39,381.96 L318.15,381.17 L318.90,380.37 L319.65,379.57 L320.41,378.78 L321.16,377.98 L321.92,377.19 L322.67,376.39 L323.42,375.60 L324.18,374.82 L324.93,374.04 L325.68,373.26 L326.44,372.48 L327.19,371.72 L327.95,370.95 L328.70,370.20 L328.70,443.60 L327.95,443.57 L327.19,443.53 L326.44,443.50 L325.68,443.46 L324.93,443.41 L324.18,443.37 L323.42,443.32 L322.67,443.27 L321.92,443.21 L321.16,443.16 L320.41,443.10 L319.65,443.04 L318.90,442.98 L318.15,442.91 L317.39,442.84 L316.64,442.77 L315.88,442.70 L315.13,442.62 L314.38,442.55 L313.62,442.47 L312.87,442.38 L312.12,442.30 L311.36,442.21 L310.61,442.13 L309.85,442.04 L309.10,441.94 L308.35,441.85 L307.59,441.75 L306.84,441.66 L306.08,441.56 L305.33,441.45 L304.58,441.35 L303.82,441.24 L303.07,441.14 L302.32,441.03 L301.56,440.92 L300.81,440.81 L300.05,440.69 L299.30,440.58 L298.55,440.46 L297.79,440.34 L297.04,440.22 L296.28,440.10 L295.53,439.98 L294.78,439.85 L294.02,439.73 L293.27,439.60 L292.52,439.47 L291.76,439.35 L291.01,439.21 L290.25,439.08 L289.50,438.95 L288.75,438.82 L287.99,438.68 L287.24,438.55 L286.48,438.41 L285.73,438.27 L284.98,438.13 L284.22,437.99 L283.47,437.85 L282.72,437.71 L281.96,437.57 L281.21,437.43 L280.45,437.28 L279.70,437.14 L278.95,436.99 L278.19,436.85 L277.44,436.70 L276.68,436.55 L275.93,436.41 L275.18,436.26 L274.42,436.11 L273.67,435.96 L272.92,435.81 L272.16,435.66 L271.41,435.51 L270.65,435.36 L269.90,435.21 L269.15,435.06 L268.39,434.91 L267.64,434.76 L266.88,434.61 L266.13,434.46 L265.38,434.31 L264.62,434.15 L263.87,434.00 L263.12,433.85 L262.36,433.70 L261.61,433.55 L260.85,433.40 L260.10,433.25 L259.35,433.10 L258.59,432.95 L257.84,432.80 L257.08,432.65 L256.33,432.50 L255.58,432.35 L254.82,432.20 L254.07,432.05 L253.32,431.90 L252.56,431.76 L251.81,431.61 L251.05,431.46 L250.30,431.32 L249.55,431.17 L248.79,431.03 L248.04,430.89 L247.28,430.74 L246.53,430.60 L245.78,430.46 L245.02,430.32 L244.27,430.18 L243.52,430.04 L242.76,429.91 L242.01,429.77 L241.25,429.63 L240.50,429.50 L240.50,429.50 L239.72,429.86 L238.95,430.23 L238.18,430.61 L237.40,430.99 L236.62,431.37 L235.85,431.76 L235.07,432.16 L234.30,432.56 L233.53,432.96 L232.75,433.37 L231.97,433.79 L231.20,434.21 L230.43,434.64 L229.65,435.07 L228.88,435.51 L228.10,435.96 L227.33,436.41 L226.55,436.86 L225.78,437.32 L225.00,437.79 L224.22,438.26 L223.45,438.73 L222.68,439.21 L221.90,439.70 Z" fill="#fde3e6" stroke="none"/>
<line x1="207.14" y1="429.55" x2="334.75" y2="429.55" stroke="#000" stroke-width="1.6" stroke-dasharray="6.30 6.56"/>
<path d="M221.90,432.10 L222.65,431.98 L223.40,431.85 L224.15,431.73 L224.90,431.61 L225.65,431.50 L226.40,431.38 L227.15,431.27 L227.91,431.16 L228.66,431.05 L229.41,430.95 L230.16,430.85 L230.91,430.74 L231.66,430.64 L232.41,430.53 L233.16,430.42 L233.91,430.32 L234.66,430.21 L235.41,430.11 L236.16,430.02 L236.91,429.93 L237.66,429.85 L238.42,429.78 L239.17,429.73 L239.92,429.69 L240.67,429.65 L241.42,429.62 L242.17,429.59 L242.92,429.56 L243.67,429.53 L244.42,429.52 L245.17,429.50 L245.92,429.50 L246.67,429.50 L247.42,429.50 L248.17,429.51 L248.93,429.51 L249.68,429.51 L250.43,429.52 L251.18,429.52 L251.93,429.53 L252.68,429.54 L253.43,429.54 L254.18,429.55 L254.93,429.56 L255.68,429.57 L256.43,429.57 L257.18,429.58 L257.93,429.59 L258.68,429.59 L259.43,429.60 L260.19,429.60 L260.94,429.61 L261.69,429.61 L262.44,429.61 L263.19,429.62 L263.94,429.62 L264.69,429.63 L265.44,429.63 L266.19,429.63 L266.94,429.64 L267.69,429.64 L268.44,429.64 L269.19,429.65 L269.94,429.65 L270.70,429.66 L271.45,429.66 L272.20,429.66 L272.95,429.67 L273.70,429.67 L274.45,429.67 L275.20,429.68 L275.95,429.68 L276.70,429.68 L277.45,429.69 L278.20,429.69 L278.95,429.69 L279.70,429.70 L280.45,429.70 L281.20,429.71 L281.96,429.71 L282.71,429.72 L283.46,429.72 L284.21,429.72 L284.96,429.73 L285.71,429.73 L286.46,429.74 L287.21,429.74 L287.96,429.75 L288.71,429.75 L289.46,429.76 L290.21,429.76 L290.96,429.77 L291.71,429.77 L292.47,429.78 L293.22,429.78 L293.97,429.78 L294.72,429.79 L295.47,429.79 L296.22,429.79 L296.97,429.80 L297.72,429.80 L298.47,429.80 L299.22,429.80 L299.97,429.80 L300.72,429.80 L301.47,429.80 L302.22,429.80 L302.98,429.80 L303.73,429.80 L304.48,429.80 L305.23,429.80 L305.98,429.80 L306.73,429.80 L307.48,429.80 L308.23,429.80 L308.98,429.80 L309.73,429.80 L310.48,429.80 L311.23,429.80 L311.98,429.80 L312.73,429.80 L313.48,429.80 L314.24,429.80 L314.99,429.80 L315.74,429.80 L316.49,429.80 L317.24,429.80 L317.99,429.80 L318.74,429.80 L319.49,429.80 L320.24,429.80 L320.99,429.80 L321.74,429.80 L322.49,429.80 L323.24,429.80 L323.99,429.80 L324.75,429.80 L325.50,429.80 L326.25,429.80 L327.00,429.80 L327.75,429.80 L328.50,429.80 L329.25,429.80 L330.00,429.80" fill="none" stroke="#f24046" stroke-width="1.75" stroke-linejoin="round" stroke-linecap="butt"/>
<path d="M207.14,345.10 L207.14,454.54 L334.75,454.54" fill="none" stroke="#000" stroke-width="1.55" stroke-linejoin="round"/>
<line x1="212.95" y1="454.54" x2="212.95" y2="458.84" stroke="#000" stroke-width="1.15"/>
<text x="212.95" y="473.14" text-anchor="middle" class="tk">0</text>
<line x1="241.95" y1="454.54" x2="241.95" y2="458.84" stroke="#000" stroke-width="1.15"/>
<text x="241.95" y="473.14" text-anchor="middle" class="tk">5</text>
<line x1="270.95" y1="454.54" x2="270.95" y2="458.84" stroke="#000" stroke-width="1.15"/>
<text x="270.95" y="473.14" text-anchor="middle" class="tk">10</text>
<line x1="299.95" y1="454.54" x2="299.95" y2="458.84" stroke="#000" stroke-width="1.15"/>
<text x="299.95" y="473.14" text-anchor="middle" class="tk">15</text>
<line x1="328.95" y1="454.54" x2="328.95" y2="458.84" stroke="#000" stroke-width="1.15"/>
<text x="328.95" y="473.14" text-anchor="middle" class="tk">20</text>
<line x1="202.84" y1="449.45" x2="207.14" y2="449.45" stroke="#000" stroke-width="1.15"/>
<text x="198.89" y="454.95" text-anchor="end" class="tk">0</text>
<line x1="202.84" y1="429.55" x2="207.14" y2="429.55" stroke="#000" stroke-width="1.15"/>
<text x="198.89" y="435.05" text-anchor="end" class="tk">1</text>
<line x1="202.84" y1="409.65" x2="207.14" y2="409.65" stroke="#000" stroke-width="1.15"/>
<text x="198.89" y="415.15" text-anchor="end" class="tk">2</text>
<line x1="202.84" y1="389.75" x2="207.14" y2="389.75" stroke="#000" stroke-width="1.15"/>
<text x="198.89" y="395.25" text-anchor="end" class="tk">3</text>
<line x1="202.84" y1="369.85" x2="207.14" y2="369.85" stroke="#000" stroke-width="1.15"/>
<text x="198.89" y="375.35" text-anchor="end" class="tk">4</text>
<line x1="202.84" y1="349.95" x2="207.14" y2="349.95" stroke="#000" stroke-width="1.15"/>
<text x="198.89" y="355.45" text-anchor="end" class="tk">5</text>
<text x="200.10" y="338.50" class="tt">(j) Pancreas</text></g>
<g><path d="M391.30,402.90 L392.07,403.49 L392.85,404.12 L393.62,404.79 L394.39,405.49 L395.17,406.23 L395.94,406.99 L396.71,407.77 L397.49,408.57 L398.26,409.40 L399.03,410.23 L399.81,411.07 L400.58,411.92 L401.35,412.76 L402.13,413.61 L402.90,414.45 L403.67,415.28 L404.45,416.10 L405.22,416.90 L405.99,417.68 L406.77,418.44 L407.54,419.17 L408.31,419.87 L409.09,420.53 L409.86,421.16 L410.63,421.74 L411.41,422.28 L412.18,422.77 L412.95,423.20 L413.73,423.58 L414.50,423.90 L414.50,423.90 L415.26,423.65 L416.01,423.39 L416.77,423.13 L417.52,422.86 L418.28,422.59 L419.04,422.31 L419.79,422.03 L420.55,421.74 L421.31,421.45 L422.06,421.15 L422.82,420.85 L423.57,420.54 L424.33,420.23 L425.09,419.91 L425.84,419.59 L426.60,419.26 L427.35,418.93 L428.11,418.59 L428.87,418.24 L429.62,417.89 L430.38,417.53 L431.14,417.17 L431.89,416.80 L432.65,416.42 L433.40,416.04 L434.16,415.65 L434.92,415.26 L435.67,414.86 L436.43,414.46 L437.18,414.04 L437.94,413.63 L438.70,413.20 L439.45,412.77 L440.21,412.33 L440.96,411.89 L441.72,411.44 L442.48,410.98 L443.23,410.51 L443.99,410.04 L444.75,409.57 L445.50,409.08 L446.26,408.59 L447.01,408.09 L447.77,407.59 L448.53,407.07 L449.28,406.55 L450.04,406.03 L450.79,405.49 L451.55,404.95 L452.31,404.40 L453.06,403.84 L453.82,403.28 L454.58,402.71 L455.33,402.13 L456.09,401.54 L456.84,400.95 L457.60,400.34 L458.36,399.73 L459.11,399.11 L459.87,398.49 L460.62,397.85 L461.38,397.21 L462.14,396.56 L462.89,395.90 L463.65,395.23 L464.41,394.56 L465.16,393.87 L465.92,393.18 L466.67,392.48 L467.43,391.77 L468.19,391.05 L468.94,390.32 L469.70,389.59 L470.45,388.84 L471.21,388.09 L471.97,387.33 L472.72,386.55 L473.48,385.77 L474.24,384.98 L474.99,384.18 L475.75,383.37 L476.50,382.55 L477.26,381.73 L478.02,380.89 L478.77,380.04 L479.53,379.18 L480.28,378.32 L481.04,377.44 L481.80,376.56 L482.55,375.66 L483.31,374.75 L484.06,373.84 L484.82,372.91 L485.58,371.97 L486.33,371.03 L487.09,370.07 L487.85,369.10 L488.60,368.12 L489.36,367.13 L490.11,366.14 L490.87,365.13 L491.63,364.11 L492.38,363.07 L493.14,362.03 L493.89,360.98 L494.65,359.92 L495.41,358.84 L496.16,357.75 L496.92,356.66 L497.68,355.55 L498.43,354.43 L499.19,353.30 L499.94,352.15 L500.70,351.00 L500.70,445.80 L499.94,445.73 L499.19,445.65 L498.43,445.58 L497.68,445.51 L496.92,445.44 L496.16,445.37 L495.41,445.30 L494.65,445.23 L493.89,445.17 L493.14,445.10 L492.38,445.03 L491.63,444.96 L490.87,444.89 L490.11,444.82 L489.36,444.75 L488.60,444.68 L487.85,444.61 L487.09,444.54 L486.33,444.47 L485.58,444.39 L484.82,444.32 L484.06,444.24 L483.31,444.17 L482.55,444.09 L481.80,444.01 L481.04,443.93 L480.28,443.84 L479.53,443.76 L478.77,443.67 L478.02,443.58 L477.26,443.49 L476.50,443.40 L475.75,443.30 L474.99,443.21 L474.24,443.11 L473.48,443.00 L472.72,442.90 L471.97,442.79 L471.21,442.68 L470.45,442.56 L469.70,442.45 L468.94,442.32 L468.19,442.20 L467.43,442.07 L466.67,441.94 L465.92,441.81 L465.16,441.67 L464.41,441.52 L463.65,441.38 L462.89,441.23 L462.14,441.07 L461.38,440.91 L460.62,440.75 L459.87,440.58 L459.11,440.41 L458.36,440.23 L457.60,440.04 L456.84,439.86 L456.09,439.66 L455.33,439.47 L454.58,439.26 L453.82,439.05 L453.06,438.84 L452.31,438.62 L451.55,438.40 L450.79,438.17 L450.04,437.94 L449.28,437.70 L448.53,437.46 L447.77,437.21 L447.01,436.96 L446.26,436.70 L445.50,436.44 L444.75,436.17 L443.99,435.90 L443.23,435.62 L442.48,435.34 L441.72,435.06 L440.96,434.77 L440.21,434.48 L439.45,434.18 L438.70,433.88 L437.94,433.57 L437.18,433.26 L436.43,432.95 L435.67,432.63 L434.92,432.31 L434.16,431.99 L433.40,431.66 L432.65,431.32 L431.89,430.99 L431.14,430.65 L430.38,430.31 L429.62,429.97 L428.87,429.63 L428.11,429.29 L427.35,428.96 L426.60,428.62 L425.84,428.28 L425.09,427.95 L424.33,427.62 L423.57,427.29 L422.82,426.97 L422.06,426.66 L421.31,426.35 L420.55,426.04 L419.79,425.74 L419.04,425.45 L418.28,425.17 L417.52,424.90 L416.77,424.63 L416.01,424.38 L415.26,424.13 L414.50,423.90 L414.50,423.90 L413.73,424.64 L412.95,425.37 L412.18,426.10 L411.41,426.82 L410.63,427.53 L409.86,428.24 L409.09,428.94 L408.31,429.63 L407.54,430.32 L406.77,430.99 L405.99,431.65 L405.22,432.31 L404.45,432.95 L403.67,433.57 L402.90,434.19 L402.13,434.79 L401.35,435.38 L400.58,435.95 L399.81,436.51 L399.03,437.05 L398.26,437.57 L397.49,438.07 L396.71,438.56 L395.94,439.03 L395.17,439.48 L394.39,439.91 L393.62,440.31 L392.85,440.70 L392.07,441.06 L391.30,441.40 Z" fill="#fde3e6" stroke="none"/>
<line x1="375.95" y1="424.20" x2="511.51" y2="424.20" stroke="#000" stroke-width="1.6" stroke-dasharray="6.71 6.99"/>
<path d="M391.30,430.50 L392.05,430.19 L392.80,429.89 L393.55,429.60 L394.30,429.31 L395.05,429.03 L395.80,428.75 L396.55,428.48 L397.30,428.22 L398.05,427.97 L398.80,427.73 L399.55,427.49 L400.30,427.26 L401.05,427.04 L401.80,426.82 L402.55,426.62 L403.31,426.42 L404.06,426.24 L404.81,426.06 L405.56,425.89 L406.31,425.73 L407.06,425.58 L407.81,425.44 L408.56,425.31 L409.31,425.19 L410.06,425.08 L410.81,424.98 L411.56,424.89 L412.31,424.81 L413.06,424.75 L413.81,424.69 L414.56,424.65 L415.31,424.61 L416.06,424.59 L416.81,424.58 L417.56,424.58 L418.31,424.59 L419.06,424.61 L419.81,424.64 L420.56,424.68 L421.31,424.72 L422.06,424.78 L422.81,424.84 L423.56,424.91 L424.31,424.99 L425.06,425.07 L425.82,425.16 L426.57,425.26 L427.32,425.36 L428.07,425.47 L428.82,425.58 L429.57,425.70 L430.32,425.82 L431.07,425.94 L431.82,426.06 L432.57,426.19 L433.32,426.32 L434.07,426.46 L434.82,426.59 L435.57,426.73 L436.32,426.86 L437.07,427.00 L437.82,427.14 L438.57,427.27 L439.32,427.41 L440.07,427.54 L440.82,427.67 L441.57,427.81 L442.32,427.94 L443.07,428.07 L443.82,428.20 L444.57,428.33 L445.32,428.46 L446.07,428.58 L446.82,428.71 L447.57,428.84 L448.33,428.96 L449.08,429.09 L449.83,429.21 L450.58,429.33 L451.33,429.45 L452.08,429.57 L452.83,429.69 L453.58,429.81 L454.33,429.93 L455.08,430.05 L455.83,430.16 L456.58,430.28 L457.33,430.39 L458.08,430.51 L458.83,430.62 L459.58,430.73 L460.33,430.84 L461.08,430.96 L461.83,431.07 L462.58,431.17 L463.33,431.28 L464.08,431.39 L464.83,431.50 L465.58,431.60 L466.33,431.71 L467.08,431.81 L467.83,431.92 L468.58,432.02 L469.33,432.12 L470.08,432.22 L470.84,432.32 L471.59,432.42 L472.34,432.52 L473.09,432.62 L473.84,432.72 L474.59,432.82 L475.34,432.91 L476.09,433.01 L476.84,433.10 L477.59,433.19 L478.34,433.29 L479.09,433.38 L479.84,433.47 L480.59,433.56 L481.34,433.65 L482.09,433.74 L482.84,433.83 L483.59,433.92 L484.34,434.01 L485.09,434.09 L485.84,434.18 L486.59,434.26 L487.34,434.35 L488.09,434.43 L488.84,434.51 L489.59,434.60 L490.34,434.68 L491.09,434.76 L491.84,434.84 L492.59,434.92 L493.35,435.00 L494.10,435.08 L494.85,435.15 L495.60,435.23 L496.35,435.31 L497.10,435.38 L497.85,435.46 L498.60,435.53 L499.35,435.60 L500.10,435.68 L500.85,435.75 L501.60,435.82 L502.35,435.89 L503.10,435.96 L503.85,436.03 L504.60,436.10" fill="none" stroke="#f24046" stroke-width="1.75" stroke-linejoin="round" stroke-linecap="butt"/>
<path d="M375.95,345.10 L375.95,454.10 L511.51,454.10" fill="none" stroke="#000" stroke-width="1.55" stroke-linejoin="round"/>
<line x1="381.94" y1="454.10" x2="381.94" y2="458.40" stroke="#000" stroke-width="1.15"/>
<text x="381.94" y="472.70" text-anchor="middle" class="tk">0</text>
<line x1="412.79" y1="454.10" x2="412.79" y2="458.40" stroke="#000" stroke-width="1.15"/>
<text x="412.79" y="472.70" text-anchor="middle" class="tk">5</text>
<line x1="443.64" y1="454.10" x2="443.64" y2="458.40" stroke="#000" stroke-width="1.15"/>
<text x="443.64" y="472.70" text-anchor="middle" class="tk">10</text>
<line x1="474.49" y1="454.10" x2="474.49" y2="458.40" stroke="#000" stroke-width="1.15"/>
<text x="474.49" y="472.70" text-anchor="middle" class="tk">15</text>
<line x1="505.34" y1="454.10" x2="505.34" y2="458.40" stroke="#000" stroke-width="1.15"/>
<text x="505.34" y="472.70" text-anchor="middle" class="tk">20</text>
<line x1="371.65" y1="449.20" x2="375.95" y2="449.20" stroke="#000" stroke-width="1.15"/>
<text x="366.70" y="454.70" text-anchor="end" class="tk">0</text>
<line x1="371.65" y1="424.20" x2="375.95" y2="424.20" stroke="#000" stroke-width="1.15"/>
<text x="366.70" y="429.70" text-anchor="end" class="tk">1</text>
<line x1="371.65" y1="399.20" x2="375.95" y2="399.20" stroke="#000" stroke-width="1.15"/>
<text x="366.70" y="404.70" text-anchor="end" class="tk">2</text>
<line x1="371.65" y1="374.20" x2="375.95" y2="374.20" stroke="#000" stroke-width="1.15"/>
<text x="366.70" y="379.70" text-anchor="end" class="tk">3</text>
<line x1="371.65" y1="349.20" x2="375.95" y2="349.20" stroke="#000" stroke-width="1.15"/>
<text x="366.70" y="354.70" text-anchor="end" class="tk">4</text>
<text x="362.50" y="338.50" class="tt">(k) MM</text></g>
<g><path d="M563.10,393.10 L563.87,393.03 L564.63,392.98 L565.40,392.93 L566.16,392.91 L566.93,392.89 L567.69,392.88 L568.46,392.88 L569.23,392.89 L569.99,392.90 L570.76,392.91 L571.52,392.93 L572.29,392.95 L573.05,392.97 L573.82,392.98 L574.58,393.00 L575.35,393.00 L576.12,393.00 L576.88,393.00 L577.65,392.98 L578.41,392.96 L579.18,392.92 L579.94,392.87 L580.71,392.80 L581.48,392.72 L582.24,392.62 L583.01,392.50 L583.77,392.36 L584.54,392.20 L585.30,392.01 L586.07,391.80 L586.83,391.56 L587.60,391.30 L587.60,391.30 L588.35,390.74 L589.10,390.19 L589.86,389.67 L590.61,389.17 L591.36,388.68 L592.11,388.21 L592.87,387.75 L593.62,387.31 L594.37,386.88 L595.12,386.47 L595.88,386.07 L596.63,385.68 L597.38,385.30 L598.13,384.93 L598.89,384.57 L599.64,384.23 L600.39,383.89 L601.14,383.55 L601.89,383.23 L602.65,382.91 L603.40,382.60 L604.15,382.30 L604.90,382.00 L605.66,381.71 L606.41,381.42 L607.16,381.14 L607.91,380.86 L608.67,380.58 L609.42,380.31 L610.17,380.04 L610.92,379.77 L611.67,379.51 L612.43,379.25 L613.18,378.99 L613.93,378.73 L614.68,378.47 L615.44,378.21 L616.19,377.95 L616.94,377.69 L617.69,377.42 L618.45,377.16 L619.20,376.90 L619.95,376.63 L620.70,376.36 L621.46,376.08 L622.21,375.80 L622.96,375.52 L623.71,375.24 L624.46,374.94 L625.22,374.65 L625.97,374.35 L626.72,374.04 L627.47,373.73 L628.23,373.41 L628.98,373.09 L629.73,372.77 L630.48,372.44 L631.24,372.10 L631.99,371.76 L632.74,371.42 L633.49,371.08 L634.24,370.73 L635.00,370.37 L635.75,370.01 L636.50,369.65 L637.25,369.28 L638.01,368.91 L638.76,368.54 L639.51,368.16 L640.26,367.78 L641.02,367.40 L641.77,367.01 L642.52,366.62 L643.27,366.23 L644.03,365.84 L644.78,365.44 L645.53,365.04 L646.28,364.63 L647.03,364.22 L647.79,363.81 L648.54,363.40 L649.29,362.99 L650.04,362.57 L650.80,362.15 L651.55,361.73 L652.30,361.31 L653.05,360.88 L653.81,360.46 L654.56,360.03 L655.31,359.60 L656.06,359.17 L656.81,358.73 L657.57,358.30 L658.32,357.86 L659.07,357.42 L659.82,356.99 L660.58,356.55 L661.33,356.10 L662.08,355.66 L662.83,355.22 L663.59,354.78 L664.34,354.33 L665.09,353.89 L665.84,353.44 L666.60,352.99 L667.35,352.55 L668.10,352.10 L668.10,444.70 L667.35,444.61 L666.60,444.52 L665.84,444.43 L665.09,444.34 L664.34,444.24 L663.59,444.15 L662.83,444.05 L662.08,443.95 L661.33,443.85 L660.58,443.75 L659.82,443.64 L659.07,443.53 L658.32,443.42 L657.57,443.30 L656.81,443.18 L656.06,443.06 L655.31,442.93 L654.56,442.80 L653.81,442.67 L653.05,442.53 L652.30,442.39 L651.55,442.24 L650.80,442.09 L650.04,441.93 L649.29,441.77 L648.54,441.60 L647.79,441.43 L647.03,441.25 L646.28,441.07 L645.53,440.88 L644.78,440.68 L644.03,440.48 L643.27,440.27 L642.52,440.06 L641.77,439.83 L641.02,439.60 L640.26,439.37 L639.51,439.12 L638.76,438.87 L638.01,438.61 L637.25,438.34 L636.50,438.07 L635.75,437.79 L635.00,437.49 L634.24,437.19 L633.49,436.88 L632.74,436.57 L631.99,436.24 L631.24,435.90 L630.48,435.56 L629.73,435.20 L628.98,434.83 L628.23,434.46 L627.47,434.07 L626.72,433.68 L625.97,433.27 L625.22,432.85 L624.46,432.42 L623.71,431.98 L622.96,431.53 L622.21,431.07 L621.46,430.60 L620.70,430.11 L619.95,429.61 L619.20,429.10 L618.45,428.58 L617.69,428.05 L616.94,427.50 L616.19,426.94 L615.44,426.37 L614.68,425.78 L613.93,425.18 L613.18,424.57 L612.43,423.94 L611.67,423.30 L610.92,422.65 L610.17,421.98 L609.42,421.29 L608.67,420.59 L607.91,419.86 L607.16,419.11 L606.41,418.33 L605.66,417.53 L604.90,416.69 L604.15,415.83 L603.40,414.92 L602.65,413.98 L601.89,413.00 L601.14,411.97 L600.39,410.90 L599.64,409.79 L598.89,408.62 L598.13,407.42 L597.38,406.17 L596.63,404.91 L595.88,403.62 L595.12,402.33 L594.37,401.04 L593.62,399.75 L592.87,398.49 L592.11,397.26 L591.36,396.08 L590.61,394.96 L589.86,393.90 L589.10,392.94 L588.35,392.06 L587.60,391.30 L587.60,391.30 L586.83,392.36 L586.07,393.59 L585.30,394.95 L584.54,396.44 L583.77,398.05 L583.01,399.74 L582.24,401.51 L581.48,403.34 L580.71,405.22 L579.94,407.12 L579.18,409.03 L578.41,410.94 L577.65,412.82 L576.88,414.67 L576.12,416.50 L575.35,418.28 L574.58,420.03 L573.82,421.72 L573.05,423.37 L572.29,424.96 L571.52,426.50 L570.76,427.96 L569.99,429.36 L569.23,430.69 L568.46,431.93 L567.69,433.10 L566.93,434.18 L566.16,435.16 L565.40,436.05 L564.63,436.84 L563.87,437.53 L563.10,438.10 Z" fill="#fde3e6" stroke="none"/>
<line x1="548.56" y1="394.06" x2="674.32" y2="394.06" stroke="#000" stroke-width="1.6" stroke-dasharray="6.76 7.03"/>
<path d="M563.10,424.40 L563.85,423.60 L564.61,422.79 L565.36,421.97 L566.11,421.13 L566.87,420.27 L567.62,419.39 L568.37,418.49 L569.13,417.56 L569.88,416.61 L570.63,415.63 L571.39,414.62 L572.14,413.58 L572.89,412.50 L573.65,411.39 L574.40,410.25 L575.15,409.06 L575.91,407.82 L576.66,406.54 L577.41,405.20 L578.16,403.80 L578.92,402.35 L579.67,400.87 L580.42,399.40 L581.18,397.99 L581.93,396.70 L582.68,395.55 L583.44,394.59 L584.19,393.80 L584.94,393.17 L585.70,392.70 L586.45,392.38 L587.20,392.18 L587.96,392.11 L588.71,392.15 L589.46,392.30 L590.22,392.53 L590.97,392.85 L591.72,393.24 L592.48,393.69 L593.23,394.19 L593.98,394.73 L594.74,395.30 L595.49,395.89 L596.24,396.49 L597.00,397.08 L597.75,397.67 L598.50,398.25 L599.26,398.82 L600.01,399.39 L600.76,399.95 L601.52,400.50 L602.27,401.04 L603.02,401.58 L603.77,402.10 L604.53,402.63 L605.28,403.14 L606.03,403.65 L606.79,404.15 L607.54,404.64 L608.29,405.13 L609.05,405.61 L609.80,406.08 L610.55,406.55 L611.31,407.01 L612.06,407.46 L612.81,407.91 L613.57,408.35 L614.32,408.79 L615.07,409.22 L615.83,409.64 L616.58,410.06 L617.33,410.47 L618.09,410.88 L618.84,411.28 L619.59,411.67 L620.35,412.06 L621.10,412.44 L621.85,412.82 L622.61,413.20 L623.36,413.56 L624.11,413.93 L624.87,414.29 L625.62,414.64 L626.37,414.99 L627.13,415.33 L627.88,415.67 L628.63,416.00 L629.38,416.33 L630.14,416.66 L630.89,416.98 L631.64,417.30 L632.40,417.61 L633.15,417.92 L633.90,418.22 L634.66,418.52 L635.41,418.82 L636.16,419.11 L636.92,419.40 L637.67,419.69 L638.42,419.97 L639.18,420.25 L639.93,420.52 L640.68,420.79 L641.44,421.06 L642.19,421.32 L642.94,421.59 L643.70,421.84 L644.45,422.10 L645.20,422.35 L645.96,422.60 L646.71,422.85 L647.46,423.10 L648.22,423.34 L648.97,423.58 L649.72,423.82 L650.48,424.05 L651.23,424.28 L651.98,424.51 L652.74,424.74 L653.49,424.97 L654.24,425.19 L654.99,425.42 L655.75,425.64 L656.50,425.86 L657.25,426.07 L658.01,426.29 L658.76,426.51 L659.51,426.72 L660.27,426.93 L661.02,427.14 L661.77,427.35 L662.53,427.56 L663.28,427.77 L664.03,427.98 L664.79,428.18 L665.54,428.39 L666.29,428.59 L667.05,428.80 L667.80,429.00" fill="none" stroke="#f24046" stroke-width="1.75" stroke-linejoin="round" stroke-linecap="butt"/>
<path d="M548.56,345.10 L548.56,454.33 L674.32,454.33" fill="none" stroke="#000" stroke-width="1.55" stroke-linejoin="round"/>
<line x1="554.20" y1="454.33" x2="554.20" y2="458.63" stroke="#000" stroke-width="1.15"/>
<text x="554.20" y="472.93" text-anchor="middle" class="tk">0</text>
<line x1="582.80" y1="454.33" x2="582.80" y2="458.63" stroke="#000" stroke-width="1.15"/>
<text x="582.80" y="472.93" text-anchor="middle" class="tk">5</text>
<line x1="611.40" y1="454.33" x2="611.40" y2="458.63" stroke="#000" stroke-width="1.15"/>
<text x="611.40" y="472.93" text-anchor="middle" class="tk">10</text>
<line x1="640.00" y1="454.33" x2="640.00" y2="458.63" stroke="#000" stroke-width="1.15"/>
<text x="640.00" y="472.93" text-anchor="middle" class="tk">15</text>
<line x1="668.60" y1="454.33" x2="668.60" y2="458.63" stroke="#000" stroke-width="1.15"/>
<text x="668.60" y="472.93" text-anchor="middle" class="tk">20</text>
<line x1="544.26" y1="449.36" x2="548.56" y2="449.36" stroke="#000" stroke-width="1.15"/>
<text x="540.81" y="454.86" text-anchor="end" class="tk">0.0</text>
<line x1="544.26" y1="421.71" x2="548.56" y2="421.71" stroke="#000" stroke-width="1.15"/>
<text x="540.81" y="427.21" text-anchor="end" class="tk">0.5</text>
<line x1="544.26" y1="394.06" x2="548.56" y2="394.06" stroke="#000" stroke-width="1.15"/>
<text x="540.81" y="399.56" text-anchor="end" class="tk">1.0</text>
<line x1="544.26" y1="366.41" x2="548.56" y2="366.41" stroke="#000" stroke-width="1.15"/>
<text x="540.81" y="371.91" text-anchor="end" class="tk">1.5</text>
<text x="541.20" y="338.50" class="tt">(l) Bladder</text></g>
<g><path d="M58.20,556.80 L58.97,557.15 L59.75,557.52 L60.52,557.90 L61.29,558.29 L62.07,558.69 L62.84,559.11 L63.61,559.52 L64.39,559.95 L65.16,560.38 L65.93,560.82 L66.71,561.26 L67.48,561.70 L68.25,562.15 L69.03,562.59 L69.80,563.04 L70.57,563.48 L71.35,563.92 L72.12,564.35 L72.89,564.79 L73.67,565.21 L74.44,565.63 L75.21,566.04 L75.99,566.44 L76.76,566.83 L77.53,567.21 L78.31,567.58 L79.08,567.93 L79.85,568.27 L80.63,568.59 L81.40,568.90 L81.40,568.90 L82.15,568.53 L82.90,568.15 L83.66,567.78 L84.41,567.41 L85.16,567.04 L85.91,566.67 L86.66,566.30 L87.41,565.93 L88.17,565.56 L88.92,565.19 L89.67,564.82 L90.42,564.45 L91.17,564.07 L91.93,563.70 L92.68,563.32 L93.43,562.95 L94.18,562.57 L94.93,562.19 L95.69,561.81 L96.44,561.42 L97.19,561.04 L97.94,560.65 L98.69,560.26 L99.44,559.87 L100.20,559.47 L100.95,559.07 L101.70,558.67 L102.45,558.27 L103.20,557.86 L103.96,557.45 L104.71,557.04 L105.46,556.62 L106.21,556.20 L106.96,555.77 L107.71,555.34 L108.47,554.91 L109.22,554.47 L109.97,554.03 L110.72,553.58 L111.47,553.13 L112.23,552.67 L112.98,552.21 L113.73,551.74 L114.48,551.27 L115.23,550.79 L115.99,550.30 L116.74,549.82 L117.49,549.32 L118.24,548.82 L118.99,548.32 L119.74,547.81 L120.50,547.30 L121.25,546.78 L122.00,546.26 L122.75,545.74 L123.50,545.21 L124.26,544.68 L125.01,544.14 L125.76,543.60 L126.51,543.06 L127.26,542.51 L128.01,541.97 L128.77,541.41 L129.52,540.86 L130.27,540.30 L131.02,539.74 L131.77,539.18 L132.53,538.62 L133.28,538.05 L134.03,537.48 L134.78,536.91 L135.53,536.34 L136.29,535.77 L137.04,535.19 L137.79,534.62 L138.54,534.04 L139.29,533.46 L140.04,532.88 L140.80,532.30 L141.55,531.72 L142.30,531.14 L143.05,530.56 L143.80,529.98 L144.56,529.40 L145.31,528.82 L146.06,528.24 L146.81,527.66 L147.56,527.08 L148.31,526.50 L149.07,525.92 L149.82,525.34 L150.57,524.77 L151.32,524.19 L152.07,523.62 L152.83,523.04 L153.58,522.47 L154.33,521.90 L155.08,521.34 L155.83,520.77 L156.59,520.21 L157.34,519.65 L158.09,519.09 L158.84,518.53 L159.59,517.98 L160.34,517.43 L161.10,516.88 L161.85,516.34 L162.60,515.80 L162.60,609.90 L161.85,609.76 L161.10,609.62 L160.34,609.47 L159.59,609.33 L158.84,609.18 L158.09,609.03 L157.34,608.87 L156.59,608.72 L155.83,608.56 L155.08,608.40 L154.33,608.23 L153.58,608.07 L152.83,607.90 L152.07,607.73 L151.32,607.56 L150.57,607.38 L149.82,607.20 L149.07,607.02 L148.31,606.83 L147.56,606.64 L146.81,606.45 L146.06,606.25 L145.31,606.06 L144.56,605.85 L143.80,605.65 L143.05,605.44 L142.30,605.23 L141.55,605.01 L140.80,604.79 L140.04,604.57 L139.29,604.35 L138.54,604.11 L137.79,603.88 L137.04,603.64 L136.29,603.40 L135.53,603.15 L134.78,602.90 L134.03,602.65 L133.28,602.39 L132.53,602.13 L131.77,601.86 L131.02,601.59 L130.27,601.31 L129.52,601.03 L128.77,600.75 L128.01,600.46 L127.26,600.16 L126.51,599.87 L125.76,599.56 L125.01,599.25 L124.26,598.94 L123.50,598.62 L122.75,598.30 L122.00,597.97 L121.25,597.63 L120.50,597.29 L119.74,596.95 L118.99,596.60 L118.24,596.24 L117.49,595.88 L116.74,595.52 L115.99,595.15 L115.23,594.77 L114.48,594.39 L113.73,594.00 L112.98,593.60 L112.23,593.20 L111.47,592.79 L110.72,592.37 L109.97,591.94 L109.22,591.50 L108.47,591.05 L107.71,590.59 L106.96,590.11 L106.21,589.62 L105.46,589.12 L104.71,588.60 L103.96,588.06 L103.20,587.51 L102.45,586.93 L101.70,586.34 L100.95,585.73 L100.20,585.09 L99.44,584.44 L98.69,583.77 L97.94,583.08 L97.19,582.37 L96.44,581.66 L95.69,580.94 L94.93,580.21 L94.18,579.47 L93.43,578.74 L92.68,578.00 L91.93,577.27 L91.17,576.54 L90.42,575.82 L89.67,575.11 L88.92,574.41 L88.17,573.73 L87.41,573.07 L86.66,572.44 L85.91,571.83 L85.16,571.25 L84.41,570.70 L83.66,570.19 L82.90,569.72 L82.15,569.29 L81.40,568.90 L81.40,568.90 L80.63,569.45 L79.85,570.18 L79.08,571.08 L78.31,572.11 L77.53,573.27 L76.76,574.53 L75.99,575.87 L75.21,577.27 L74.44,578.72 L73.67,580.18 L72.89,581.65 L72.12,583.09 L71.35,584.51 L70.57,585.90 L69.80,587.25 L69.03,588.57 L68.25,589.85 L67.48,591.09 L66.71,592.29 L65.93,593.44 L65.16,594.55 L64.39,595.60 L63.61,596.61 L62.84,597.56 L62.07,598.45 L61.29,599.29 L60.52,600.06 L59.75,600.78 L58.97,601.42 L58.20,602.00 Z" fill="#fde3e6" stroke="none"/>
<line x1="43.95" y1="569.40" x2="170.17" y2="569.40" stroke="#000" stroke-width="1.6" stroke-dasharray="6.81 7.09"/>
<path d="M58.20,587.80 L58.95,587.37 L59.70,586.91 L60.45,586.42 L61.21,585.91 L61.96,585.38 L62.71,584.81 L63.46,584.22 L64.21,583.59 L64.96,582.94 L65.71,582.26 L66.47,581.54 L67.22,580.80 L67.97,580.02 L68.72,579.21 L69.47,578.38 L70.22,577.53 L70.97,576.68 L71.73,575.84 L72.48,575.01 L73.23,574.20 L73.98,573.43 L74.73,572.71 L75.48,572.03 L76.23,571.42 L76.99,570.88 L77.74,570.42 L78.49,570.05 L79.24,569.75 L79.99,569.53 L80.74,569.38 L81.49,569.29 L82.25,569.26 L83.00,569.29 L83.75,569.36 L84.50,569.48 L85.25,569.64 L86.00,569.84 L86.75,570.06 L87.51,570.32 L88.26,570.59 L89.01,570.88 L89.76,571.18 L90.51,571.49 L91.26,571.79 L92.01,572.10 L92.77,572.40 L93.52,572.71 L94.27,573.01 L95.02,573.30 L95.77,573.60 L96.52,573.89 L97.27,574.18 L98.03,574.46 L98.78,574.75 L99.53,575.03 L100.28,575.31 L101.03,575.59 L101.78,575.86 L102.53,576.14 L103.29,576.41 L104.04,576.68 L104.79,576.95 L105.54,577.21 L106.29,577.47 L107.04,577.73 L107.79,577.99 L108.55,578.25 L109.30,578.50 L110.05,578.76 L110.80,579.01 L111.55,579.26 L112.30,579.51 L113.05,579.75 L113.81,580.00 L114.56,580.24 L115.31,580.48 L116.06,580.72 L116.81,580.96 L117.56,581.19 L118.31,581.42 L119.07,581.66 L119.82,581.89 L120.57,582.12 L121.32,582.35 L122.07,582.57 L122.82,582.80 L123.57,583.02 L124.33,583.24 L125.08,583.47 L125.83,583.69 L126.58,583.90 L127.33,584.12 L128.08,584.34 L128.83,584.55 L129.59,584.77 L130.34,584.98 L131.09,585.19 L131.84,585.40 L132.59,585.61 L133.34,585.82 L134.09,586.03 L134.85,586.24 L135.60,586.44 L136.35,586.65 L137.10,586.85 L137.85,587.06 L138.60,587.26 L139.35,587.46 L140.11,587.66 L140.86,587.86 L141.61,588.06 L142.36,588.26 L143.11,588.46 L143.86,588.66 L144.61,588.85 L145.37,589.05 L146.12,589.25 L146.87,589.44 L147.62,589.64 L148.37,589.84 L149.12,590.03 L149.87,590.22 L150.63,590.42 L151.38,590.61 L152.13,590.81 L152.88,591.00 L153.63,591.19 L154.38,591.39 L155.13,591.58 L155.89,591.77 L156.64,591.96 L157.39,592.16 L158.14,592.35 L158.89,592.54 L159.64,592.73 L160.39,592.93 L161.15,593.12 L161.90,593.31 L162.65,593.51 L163.40,593.70" fill="none" stroke="#f24046" stroke-width="1.75" stroke-linejoin="round" stroke-linecap="butt"/>
<path d="M43.95,510.40 L43.95,620.10 L170.17,620.10" fill="none" stroke="#000" stroke-width="1.55" stroke-linejoin="round"/>
<line x1="49.55" y1="620.10" x2="49.55" y2="624.40" stroke="#000" stroke-width="1.15"/>
<text x="49.55" y="638.70" text-anchor="middle" class="tk">0</text>
<line x1="78.27" y1="620.10" x2="78.27" y2="624.40" stroke="#000" stroke-width="1.15"/>
<text x="78.27" y="638.70" text-anchor="middle" class="tk">5</text>
<line x1="106.99" y1="620.10" x2="106.99" y2="624.40" stroke="#000" stroke-width="1.15"/>
<text x="106.99" y="638.70" text-anchor="middle" class="tk">10</text>
<line x1="135.71" y1="620.10" x2="135.71" y2="624.40" stroke="#000" stroke-width="1.15"/>
<text x="135.71" y="638.70" text-anchor="middle" class="tk">15</text>
<line x1="164.43" y1="620.10" x2="164.43" y2="624.40" stroke="#000" stroke-width="1.15"/>
<text x="164.43" y="638.70" text-anchor="middle" class="tk">20</text>
<line x1="39.65" y1="615.00" x2="43.95" y2="615.00" stroke="#000" stroke-width="1.15"/>
<text x="35.80" y="620.50" text-anchor="end" class="tk">0.0</text>
<line x1="39.65" y1="592.20" x2="43.95" y2="592.20" stroke="#000" stroke-width="1.15"/>
<text x="35.80" y="597.70" text-anchor="end" class="tk">0.5</text>
<line x1="39.65" y1="569.40" x2="43.95" y2="569.40" stroke="#000" stroke-width="1.15"/>
<text x="35.80" y="574.90" text-anchor="end" class="tk">1.0</text>
<line x1="39.65" y1="546.60" x2="43.95" y2="546.60" stroke="#000" stroke-width="1.15"/>
<text x="35.80" y="552.10" text-anchor="end" class="tk">1.5</text>
<line x1="39.65" y1="523.80" x2="43.95" y2="523.80" stroke="#000" stroke-width="1.15"/>
<text x="35.80" y="529.30" text-anchor="end" class="tk">2.0</text>
<text x="36.10" y="501.10" class="tt">(m) Leukaemia</text></g>
<g><path d="M224.80,589.30 L225.55,589.36 L226.31,589.41 L227.06,589.45 L227.81,589.47 L228.57,589.48 L229.32,589.48 L230.07,589.47 L230.83,589.45 L231.58,589.42 L232.33,589.38 L233.08,589.33 L233.84,589.28 L234.59,589.21 L235.34,589.14 L236.10,589.06 L236.85,588.98 L237.60,588.89 L238.36,588.79 L239.11,588.69 L239.86,588.59 L240.62,588.48 L241.37,588.37 L242.12,588.25 L242.88,588.14 L243.63,588.02 L244.38,587.90 L245.13,587.78 L245.89,587.66 L246.64,587.55 L247.39,587.43 L248.15,587.31 L248.90,587.20 L248.90,587.20 L249.65,586.77 L250.41,586.34 L251.16,585.90 L251.92,585.45 L252.67,584.99 L253.43,584.53 L254.18,584.06 L254.93,583.58 L255.69,583.09 L256.44,582.60 L257.20,582.10 L257.95,581.59 L258.71,581.08 L259.46,580.56 L260.21,580.03 L260.97,579.50 L261.72,578.95 L262.48,578.41 L263.23,577.85 L263.99,577.29 L264.74,576.72 L265.49,576.15 L266.25,575.57 L267.00,574.98 L267.76,574.39 L268.51,573.79 L269.27,573.18 L270.02,572.57 L270.77,571.95 L271.53,571.32 L272.28,570.69 L273.04,570.06 L273.79,569.42 L274.55,568.77 L275.30,568.11 L276.05,567.46 L276.81,566.79 L277.56,566.12 L278.32,565.44 L279.07,564.76 L279.83,564.07 L280.58,563.38 L281.33,562.68 L282.09,561.97 L282.84,561.26 L283.60,560.54 L284.35,559.82 L285.11,559.09 L285.86,558.35 L286.61,557.60 L287.37,556.85 L288.12,556.09 L288.88,555.33 L289.63,554.56 L290.39,553.78 L291.14,552.99 L291.89,552.20 L292.65,551.40 L293.40,550.59 L294.16,549.78 L294.91,548.96 L295.67,548.13 L296.42,547.29 L297.17,546.45 L297.93,545.61 L298.68,544.76 L299.44,543.91 L300.19,543.06 L300.95,542.20 L301.70,541.34 L302.45,540.49 L303.21,539.63 L303.96,538.77 L304.72,537.92 L305.47,537.07 L306.23,536.22 L306.98,535.37 L307.73,534.53 L308.49,533.70 L309.24,532.87 L310.00,532.05 L310.75,531.23 L311.51,530.42 L312.26,529.62 L313.01,528.83 L313.77,528.05 L314.52,527.28 L315.28,526.52 L316.03,525.77 L316.79,525.04 L317.54,524.32 L318.29,523.61 L319.05,522.92 L319.80,522.24 L320.56,521.58 L321.31,520.93 L322.07,520.31 L322.82,519.70 L323.57,519.11 L324.33,518.54 L325.08,517.99 L325.84,517.46 L326.59,516.95 L327.35,516.46 L328.10,516.00 L328.10,611.20 L327.35,610.98 L326.59,610.75 L325.84,610.53 L325.08,610.31 L324.33,610.09 L323.57,609.87 L322.82,609.65 L322.07,609.44 L321.31,609.22 L320.56,609.00 L319.80,608.79 L319.05,608.57 L318.29,608.35 L317.54,608.14 L316.79,607.93 L316.03,607.71 L315.28,607.50 L314.52,607.28 L313.77,607.07 L313.01,606.86 L312.26,606.65 L311.51,606.44 L310.75,606.22 L310.00,606.01 L309.24,605.80 L308.49,605.59 L307.73,605.38 L306.98,605.17 L306.23,604.96 L305.47,604.75 L304.72,604.54 L303.96,604.32 L303.21,604.11 L302.45,603.90 L301.70,603.69 L300.95,603.48 L300.19,603.27 L299.44,603.06 L298.68,602.85 L297.93,602.64 L297.17,602.42 L296.42,602.21 L295.67,602.00 L294.91,601.79 L294.16,601.57 L293.40,601.36 L292.65,601.15 L291.89,600.93 L291.14,600.72 L290.39,600.50 L289.63,600.29 L288.88,600.07 L288.12,599.85 L287.37,599.64 L286.61,599.42 L285.86,599.20 L285.11,598.98 L284.35,598.76 L283.60,598.54 L282.84,598.32 L282.09,598.10 L281.33,597.88 L280.58,597.65 L279.83,597.43 L279.07,597.20 L278.32,596.98 L277.56,596.75 L276.81,596.52 L276.05,596.29 L275.30,596.06 L274.55,595.83 L273.79,595.60 L273.04,595.37 L272.28,595.13 L271.53,594.90 L270.77,594.66 L270.02,594.43 L269.27,594.19 L268.51,593.95 L267.76,593.71 L267.00,593.46 L266.25,593.22 L265.49,592.98 L264.74,592.73 L263.99,592.48 L263.23,592.23 L262.48,591.98 L261.72,591.73 L260.97,591.48 L260.21,591.22 L259.46,590.96 L258.71,590.71 L257.95,590.45 L257.20,590.19 L256.44,589.92 L255.69,589.66 L254.93,589.39 L254.18,589.12 L253.43,588.85 L252.67,588.58 L251.92,588.31 L251.16,588.04 L250.41,587.76 L249.65,587.48 L248.90,587.20 L248.90,587.20 L248.15,588.03 L247.39,588.87 L246.64,589.72 L245.89,590.58 L245.13,591.46 L244.38,592.34 L243.63,593.23 L242.88,594.12 L242.12,595.02 L241.37,595.92 L240.62,596.82 L239.86,597.72 L239.11,598.63 L238.36,599.53 L237.60,600.42 L236.85,601.31 L236.10,602.20 L235.34,603.08 L234.59,603.95 L233.84,604.81 L233.08,605.66 L232.33,606.49 L231.58,607.32 L230.83,608.13 L230.07,608.92 L229.32,609.69 L228.57,610.45 L227.81,611.18 L227.06,611.90 L226.31,612.59 L225.55,613.26 L224.80,613.90 Z" fill="#fde3e6" stroke="none"/>
<line x1="207.20" y1="588.30" x2="341.02" y2="588.30" stroke="#000" stroke-width="1.6" stroke-dasharray="7.21 7.51"/>
<path d="M223.90,604.20 L224.65,603.66 L225.41,603.11 L226.16,602.57 L226.92,602.03 L227.67,601.50 L228.43,600.96 L229.18,600.43 L229.94,599.90 L230.69,599.38 L231.45,598.85 L232.20,598.33 L232.96,597.80 L233.71,597.27 L234.47,596.75 L235.22,596.23 L235.98,595.70 L236.73,595.16 L237.49,594.61 L238.24,594.03 L239.00,593.43 L239.75,592.81 L240.51,592.19 L241.26,591.59 L242.02,591.01 L242.77,590.43 L243.52,589.85 L244.28,589.28 L245.03,588.75 L245.79,588.28 L246.54,587.88 L247.30,587.52 L248.05,587.18 L248.81,586.88 L249.56,586.62 L250.32,586.39 L251.07,586.22 L251.83,586.07 L252.58,585.93 L253.34,585.82 L254.09,585.71 L254.85,585.62 L255.60,585.53 L256.36,585.45 L257.11,585.37 L257.87,585.30 L258.62,585.24 L259.38,585.18 L260.13,585.11 L260.88,585.05 L261.64,584.99 L262.39,584.93 L263.15,584.86 L263.90,584.79 L264.66,584.72 L265.41,584.64 L266.17,584.56 L266.92,584.48 L267.68,584.40 L268.43,584.32 L269.19,584.24 L269.94,584.16 L270.70,584.08 L271.45,584.01 L272.21,583.94 L272.96,583.87 L273.72,583.80 L274.47,583.73 L275.23,583.67 L275.98,583.60 L276.74,583.54 L277.49,583.48 L278.25,583.42 L279.00,583.37 L279.75,583.32 L280.51,583.27 L281.26,583.22 L282.02,583.18 L282.77,583.14 L283.53,583.10 L284.28,583.06 L285.04,583.03 L285.79,582.99 L286.55,582.95 L287.30,582.91 L288.06,582.87 L288.81,582.83 L289.57,582.78 L290.32,582.73 L291.08,582.68 L291.83,582.62 L292.59,582.55 L293.34,582.48 L294.10,582.41 L294.85,582.33 L295.61,582.24 L296.36,582.16 L297.12,582.07 L297.87,581.98 L298.62,581.88 L299.38,581.78 L300.13,581.69 L300.89,581.59 L301.64,581.48 L302.40,581.38 L303.15,581.28 L303.91,581.18 L304.66,581.08 L305.42,580.98 L306.17,580.88 L306.93,580.78 L307.68,580.69 L308.44,580.60 L309.19,580.50 L309.95,580.40 L310.70,580.31 L311.46,580.21 L312.21,580.11 L312.97,580.01 L313.72,579.92 L314.48,579.82 L315.23,579.72 L315.98,579.62 L316.74,579.52 L317.49,579.42 L318.25,579.32 L319.00,579.22 L319.76,579.12 L320.51,579.02 L321.27,578.92 L322.02,578.82 L322.78,578.72 L323.53,578.62 L324.29,578.51 L325.04,578.41 L325.80,578.31 L326.55,578.21 L327.31,578.11 L328.06,578.01 L328.82,577.91 L329.57,577.81 L330.33,577.71 L331.08,577.61 L331.84,577.51 L332.59,577.40 L333.35,577.30 L334.10,577.20" fill="none" stroke="#f24046" stroke-width="1.75" stroke-linejoin="round" stroke-linecap="butt"/>
<path d="M207.20,510.40 L207.20,620.10 L341.02,620.10" fill="none" stroke="#000" stroke-width="1.55" stroke-linejoin="round"/>
<line x1="213.34" y1="620.10" x2="213.34" y2="624.40" stroke="#000" stroke-width="1.15"/>
<text x="213.34" y="638.70" text-anchor="middle" class="tk">0</text>
<line x1="243.74" y1="620.10" x2="243.74" y2="624.40" stroke="#000" stroke-width="1.15"/>
<text x="243.74" y="638.70" text-anchor="middle" class="tk">5</text>
<line x1="274.14" y1="620.10" x2="274.14" y2="624.40" stroke="#000" stroke-width="1.15"/>
<text x="274.14" y="638.70" text-anchor="middle" class="tk">10</text>
<line x1="304.54" y1="620.10" x2="304.54" y2="624.40" stroke="#000" stroke-width="1.15"/>
<text x="304.54" y="638.70" text-anchor="middle" class="tk">15</text>
<line x1="334.94" y1="620.10" x2="334.94" y2="624.40" stroke="#000" stroke-width="1.15"/>
<text x="334.94" y="638.70" text-anchor="middle" class="tk">20</text>
<line x1="202.90" y1="588.30" x2="207.20" y2="588.30" stroke="#000" stroke-width="1.15"/>
<text x="198.95" y="593.80" text-anchor="end" class="tk">1.0</text>
<line x1="202.90" y1="555.10" x2="207.20" y2="555.10" stroke="#000" stroke-width="1.15"/>
<text x="198.95" y="560.60" text-anchor="end" class="tk">1.5</text>
<line x1="202.90" y1="521.90" x2="207.20" y2="521.90" stroke="#000" stroke-width="1.15"/>
<text x="198.95" y="527.40" text-anchor="end" class="tk">2.0</text>
<text x="200.00" y="501.10" class="tt">(n) Prostate</text></g>
<g><path d="M391.40,573.40 L392.16,573.74 L392.92,574.07 L393.67,574.41 L394.43,574.75 L395.19,575.08 L395.95,575.41 L396.71,575.75 L397.46,576.08 L398.22,576.41 L398.98,576.75 L399.74,577.08 L400.50,577.41 L401.25,577.74 L402.01,578.07 L402.77,578.40 L403.53,578.73 L404.29,579.06 L405.05,579.39 L405.80,579.71 L406.56,580.04 L407.32,580.37 L408.08,580.69 L408.84,581.02 L409.59,581.34 L410.35,581.67 L411.11,581.99 L411.87,582.31 L412.63,582.64 L413.38,582.96 L414.14,583.28 L414.90,583.60 L414.90,583.60 L415.66,583.34 L416.41,583.08 L417.17,582.81 L417.92,582.55 L418.68,582.27 L419.44,582.00 L420.19,581.72 L420.95,581.44 L421.70,581.16 L422.46,580.87 L423.21,580.58 L423.97,580.29 L424.73,579.99 L425.48,579.69 L426.24,579.39 L426.99,579.08 L427.75,578.77 L428.50,578.45 L429.26,578.13 L430.02,577.81 L430.77,577.48 L431.53,577.15 L432.28,576.81 L433.04,576.48 L433.80,576.13 L434.55,575.78 L435.31,575.43 L436.06,575.08 L436.82,574.72 L437.57,574.35 L438.33,573.98 L439.09,573.61 L439.84,573.23 L440.60,572.84 L441.35,572.46 L442.11,572.06 L442.87,571.67 L443.62,571.26 L444.38,570.85 L445.13,570.44 L445.89,570.02 L446.64,569.60 L447.40,569.17 L448.16,568.74 L448.91,568.30 L449.67,567.86 L450.42,567.41 L451.18,566.95 L451.94,566.49 L452.69,566.03 L453.45,565.56 L454.20,565.08 L454.96,564.59 L455.71,564.11 L456.47,563.61 L457.23,563.11 L457.98,562.60 L458.74,562.09 L459.49,561.57 L460.25,561.05 L461.01,560.52 L461.76,559.98 L462.52,559.43 L463.27,558.88 L464.03,558.33 L464.79,557.76 L465.54,557.19 L466.30,556.62 L467.05,556.03 L467.81,555.44 L468.56,554.85 L469.32,554.24 L470.08,553.63 L470.83,553.02 L471.59,552.39 L472.34,551.76 L473.10,551.12 L473.86,550.48 L474.61,549.82 L475.37,549.16 L476.12,548.50 L476.88,547.82 L477.63,547.14 L478.39,546.45 L479.15,545.75 L479.90,545.04 L480.66,544.33 L481.41,543.61 L482.17,542.88 L482.93,542.15 L483.68,541.40 L484.44,540.65 L485.19,539.89 L485.95,539.12 L486.70,538.34 L487.46,537.56 L488.22,536.76 L488.97,535.96 L489.73,535.15 L490.48,534.33 L491.24,533.51 L492.00,532.67 L492.75,531.83 L493.51,530.97 L494.26,530.11 L495.02,529.24 L495.77,528.36 L496.53,527.47 L497.29,526.58 L498.04,525.67 L498.80,524.76 L499.55,523.83 L500.31,522.90 L501.06,521.96 L501.82,521.00 L502.58,520.04 L503.33,519.07 L504.09,518.09 L504.84,517.10 L505.60,516.10 L505.60,602.70 L504.84,602.60 L504.09,602.49 L503.33,602.38 L502.58,602.27 L501.82,602.16 L501.06,602.05 L500.31,601.94 L499.55,601.82 L498.80,601.70 L498.04,601.58 L497.29,601.46 L496.53,601.34 L495.77,601.21 L495.02,601.09 L494.26,600.96 L493.51,600.83 L492.75,600.70 L492.00,600.57 L491.24,600.43 L490.48,600.30 L489.73,600.16 L488.97,600.02 L488.22,599.88 L487.46,599.74 L486.70,599.60 L485.95,599.46 L485.19,599.31 L484.44,599.17 L483.68,599.02 L482.93,598.87 L482.17,598.72 L481.41,598.57 L480.66,598.42 L479.90,598.27 L479.15,598.11 L478.39,597.96 L477.63,597.80 L476.88,597.64 L476.12,597.49 L475.37,597.33 L474.61,597.17 L473.86,597.01 L473.10,596.85 L472.34,596.68 L471.59,596.52 L470.83,596.36 L470.08,596.19 L469.32,596.02 L468.56,595.86 L467.81,595.69 L467.05,595.52 L466.30,595.35 L465.54,595.18 L464.79,595.01 L464.03,594.84 L463.27,594.67 L462.52,594.50 L461.76,594.33 L461.01,594.16 L460.25,593.98 L459.49,593.81 L458.74,593.64 L457.98,593.46 L457.23,593.29 L456.47,593.11 L455.71,592.94 L454.96,592.76 L454.20,592.58 L453.45,592.41 L452.69,592.23 L451.94,592.05 L451.18,591.88 L450.42,591.70 L449.67,591.52 L448.91,591.34 L448.16,591.17 L447.40,590.99 L446.64,590.81 L445.89,590.63 L445.13,590.45 L444.38,590.28 L443.62,590.10 L442.87,589.92 L442.11,589.74 L441.35,589.56 L440.60,589.39 L439.84,589.21 L439.09,589.03 L438.33,588.86 L437.57,588.68 L436.82,588.50 L436.06,588.33 L435.31,588.15 L434.55,587.97 L433.80,587.80 L433.04,587.62 L432.28,587.45 L431.53,587.28 L430.77,587.10 L430.02,586.93 L429.26,586.76 L428.50,586.58 L427.75,586.41 L426.99,586.24 L426.24,586.07 L425.48,585.90 L424.73,585.73 L423.97,585.56 L423.21,585.40 L422.46,585.23 L421.70,585.06 L420.95,584.90 L420.19,584.73 L419.44,584.57 L418.68,584.40 L417.92,584.24 L417.17,584.08 L416.41,583.92 L415.66,583.76 L414.90,583.60 L414.90,583.60 L414.14,584.19 L413.38,584.79 L412.63,585.39 L411.87,585.98 L411.11,586.58 L410.35,587.18 L409.59,587.77 L408.84,588.37 L408.08,588.97 L407.32,589.57 L406.56,590.17 L405.80,590.77 L405.05,591.37 L404.29,591.98 L403.53,592.58 L402.77,593.18 L402.01,593.79 L401.25,594.39 L400.50,595.00 L399.74,595.60 L398.98,596.21 L398.22,596.81 L397.46,597.42 L396.71,598.03 L395.95,598.64 L395.19,599.25 L394.43,599.86 L393.67,600.47 L392.92,601.08 L392.16,601.69 L391.40,602.30 Z" fill="#fde3e6" stroke="none"/>
<line x1="375.95" y1="583.69" x2="512.07" y2="583.69" stroke="#000" stroke-width="1.6" stroke-dasharray="6.75 7.03"/>
<path d="M391.40,592.20 L392.15,591.95 L392.90,591.70 L393.65,591.45 L394.40,591.20 L395.15,590.95 L395.91,590.69 L396.66,590.44 L397.41,590.18 L398.16,589.92 L398.91,589.67 L399.66,589.41 L400.41,589.15 L401.16,588.89 L401.91,588.63 L402.66,588.37 L403.42,588.11 L404.17,587.85 L404.92,587.59 L405.67,587.32 L406.42,587.05 L407.17,586.77 L407.92,586.49 L408.67,586.19 L409.42,585.86 L410.17,585.52 L410.93,585.17 L411.68,584.83 L412.43,584.51 L413.18,584.21 L413.93,583.96 L414.68,583.75 L415.43,583.59 L416.18,583.44 L416.93,583.31 L417.68,583.18 L418.44,583.07 L419.19,582.97 L419.94,582.89 L420.69,582.82 L421.44,582.77 L422.19,582.72 L422.94,582.67 L423.69,582.63 L424.44,582.60 L425.19,582.56 L425.95,582.53 L426.70,582.50 L427.45,582.47 L428.20,582.45 L428.95,582.42 L429.70,582.40 L430.45,582.38 L431.20,582.36 L431.95,582.35 L432.70,582.33 L433.46,582.31 L434.21,582.30 L434.96,582.28 L435.71,582.27 L436.46,582.25 L437.21,582.24 L437.96,582.23 L438.71,582.22 L439.46,582.20 L440.21,582.19 L440.97,582.18 L441.72,582.17 L442.47,582.16 L443.22,582.14 L443.97,582.13 L444.72,582.12 L445.47,582.11 L446.22,582.10 L446.97,582.08 L447.72,582.07 L448.48,582.06 L449.23,582.05 L449.98,582.04 L450.73,582.03 L451.48,582.01 L452.23,582.00 L452.98,581.99 L453.73,581.98 L454.48,581.97 L455.23,581.96 L455.99,581.95 L456.74,581.94 L457.49,581.93 L458.24,581.92 L458.99,581.91 L459.74,581.90 L460.49,581.89 L461.24,581.88 L461.99,581.87 L462.74,581.86 L463.50,581.85 L464.25,581.83 L465.00,581.82 L465.75,581.81 L466.50,581.80 L467.25,581.79 L468.00,581.78 L468.75,581.76 L469.50,581.75 L470.25,581.74 L471.01,581.73 L471.76,581.71 L472.51,581.70 L473.26,581.68 L474.01,581.67 L474.76,581.65 L475.51,581.64 L476.26,581.62 L477.01,581.61 L477.76,581.59 L478.52,581.58 L479.27,581.56 L480.02,581.55 L480.77,581.53 L481.52,581.51 L482.27,581.50 L483.02,581.48 L483.77,581.46 L484.52,581.44 L485.27,581.43 L486.03,581.41 L486.78,581.39 L487.53,581.37 L488.28,581.35 L489.03,581.34 L489.78,581.32 L490.53,581.30 L491.28,581.28 L492.03,581.26 L492.78,581.24 L493.54,581.22 L494.29,581.20 L495.04,581.18 L495.79,581.16 L496.54,581.14 L497.29,581.12 L498.04,581.10 L498.79,581.07 L499.54,581.05 L500.29,581.03 L501.05,581.01 L501.80,580.99 L502.55,580.97 L503.30,580.94 L504.05,580.92 L504.80,580.90" fill="none" stroke="#f24046" stroke-width="1.75" stroke-linejoin="round" stroke-linecap="butt"/>
<path d="M375.95,510.40 L375.95,619.90 L512.07,619.90" fill="none" stroke="#000" stroke-width="1.55" stroke-linejoin="round"/>
<line x1="382.00" y1="619.90" x2="382.00" y2="624.20" stroke="#000" stroke-width="1.15"/>
<text x="382.00" y="638.50" text-anchor="middle" class="tk">0</text>
<line x1="412.97" y1="619.90" x2="412.97" y2="624.20" stroke="#000" stroke-width="1.15"/>
<text x="412.97" y="638.50" text-anchor="middle" class="tk">5</text>
<line x1="443.94" y1="619.90" x2="443.94" y2="624.20" stroke="#000" stroke-width="1.15"/>
<text x="443.94" y="638.50" text-anchor="middle" class="tk">10</text>
<line x1="474.91" y1="619.90" x2="474.91" y2="624.20" stroke="#000" stroke-width="1.15"/>
<text x="474.91" y="638.50" text-anchor="middle" class="tk">15</text>
<line x1="505.88" y1="619.90" x2="505.88" y2="624.20" stroke="#000" stroke-width="1.15"/>
<text x="505.88" y="638.50" text-anchor="middle" class="tk">20</text>
<line x1="371.65" y1="614.94" x2="375.95" y2="614.94" stroke="#000" stroke-width="1.15"/>
<text x="366.70" y="620.44" text-anchor="end" class="tk">0</text>
<line x1="371.65" y1="583.69" x2="375.95" y2="583.69" stroke="#000" stroke-width="1.15"/>
<text x="366.70" y="589.19" text-anchor="end" class="tk">1</text>
<line x1="371.65" y1="552.44" x2="375.95" y2="552.44" stroke="#000" stroke-width="1.15"/>
<text x="366.70" y="557.94" text-anchor="end" class="tk">2</text>
<line x1="371.65" y1="521.19" x2="375.95" y2="521.19" stroke="#000" stroke-width="1.15"/>
<text x="366.70" y="526.69" text-anchor="end" class="tk">3</text>
<text x="362.40" y="501.10" class="tt">(o) Kidney</text></g>
<g><path d="M562.00,590.10 L562.76,590.33 L563.51,590.57 L564.27,590.80 L565.02,591.04 L565.78,591.27 L566.54,591.51 L567.29,591.74 L568.05,591.97 L568.81,592.21 L569.56,592.44 L570.32,592.67 L571.08,592.90 L571.83,593.14 L572.59,593.37 L573.34,593.60 L574.10,593.83 L574.86,594.06 L575.61,594.29 L576.37,594.52 L577.12,594.75 L577.88,594.98 L578.64,595.21 L579.39,595.44 L580.15,595.67 L580.91,595.90 L581.66,596.13 L582.42,596.36 L583.18,596.59 L583.93,596.82 L584.69,597.04 L585.44,597.27 L586.20,597.50 L586.20,597.50 L586.96,597.23 L587.71,596.96 L588.47,596.68 L589.22,596.41 L589.98,596.12 L590.73,595.84 L591.49,595.55 L592.24,595.26 L593.00,594.96 L593.75,594.66 L594.51,594.36 L595.26,594.05 L596.02,593.74 L596.77,593.42 L597.53,593.10 L598.28,592.78 L599.04,592.45 L599.79,592.12 L600.55,591.78 L601.31,591.43 L602.06,591.09 L602.82,590.73 L603.57,590.38 L604.33,590.01 L605.08,589.65 L605.84,589.27 L606.59,588.89 L607.35,588.51 L608.10,588.12 L608.86,587.72 L609.61,587.32 L610.37,586.91 L611.12,586.50 L611.88,586.08 L612.63,585.66 L613.39,585.22 L614.14,584.78 L614.90,584.34 L615.66,583.89 L616.41,583.43 L617.17,582.97 L617.92,582.49 L618.68,582.01 L619.43,581.52 L620.19,581.03 L620.94,580.52 L621.70,580.00 L622.45,579.47 L623.21,578.94 L623.96,578.39 L624.72,577.83 L625.47,577.25 L626.23,576.67 L626.98,576.07 L627.74,575.46 L628.49,574.83 L629.25,574.19 L630.01,573.54 L630.76,572.87 L631.52,572.18 L632.27,571.48 L633.03,570.77 L633.78,570.04 L634.54,569.29 L635.29,568.53 L636.05,567.76 L636.80,566.98 L637.56,566.18 L638.31,565.37 L639.07,564.54 L639.82,563.70 L640.58,562.85 L641.33,561.98 L642.09,561.11 L642.84,560.21 L643.60,559.31 L644.36,558.39 L645.11,557.46 L645.87,556.52 L646.62,555.56 L647.38,554.60 L648.13,553.61 L648.89,552.62 L649.64,551.62 L650.40,550.60 L651.15,549.57 L651.91,548.53 L652.66,547.47 L653.42,546.41 L654.17,545.33 L654.93,544.24 L655.68,543.13 L656.44,542.02 L657.19,540.90 L657.95,539.76 L658.71,538.61 L659.46,537.45 L660.22,536.28 L660.97,535.09 L661.73,533.90 L662.48,532.70 L663.24,531.49 L663.99,530.27 L664.75,529.04 L665.50,527.81 L666.26,526.58 L667.01,525.33 L667.77,524.09 L668.52,522.84 L669.28,521.59 L670.03,520.34 L670.79,519.10 L671.54,517.85 L672.30,516.60 L672.30,613.50 L671.54,613.39 L670.79,613.29 L670.03,613.20 L669.28,613.11 L668.52,613.03 L667.77,612.96 L667.01,612.89 L666.26,612.83 L665.50,612.77 L664.75,612.71 L663.99,612.67 L663.24,612.62 L662.48,612.59 L661.73,612.55 L660.97,612.52 L660.22,612.49 L659.46,612.47 L658.71,612.45 L657.95,612.44 L657.19,612.43 L656.44,612.42 L655.68,612.41 L654.93,612.41 L654.17,612.41 L653.42,612.41 L652.66,612.41 L651.91,612.42 L651.15,612.43 L650.40,612.43 L649.64,612.44 L648.89,612.46 L648.13,612.47 L647.38,612.48 L646.62,612.49 L645.87,612.51 L645.11,612.52 L644.36,612.54 L643.60,612.55 L642.84,612.56 L642.09,612.58 L641.33,612.59 L640.58,612.60 L639.82,612.61 L639.07,612.62 L638.31,612.62 L637.56,612.63 L636.80,612.63 L636.05,612.64 L635.29,612.63 L634.54,612.63 L633.78,612.62 L633.03,612.62 L632.27,612.60 L631.52,612.59 L630.76,612.57 L630.01,612.55 L629.25,612.52 L628.49,612.49 L627.74,612.46 L626.98,612.42 L626.23,612.37 L625.47,612.33 L624.72,612.27 L623.96,612.21 L623.21,612.15 L622.45,612.08 L621.70,612.01 L620.94,611.93 L620.19,611.84 L619.43,611.74 L618.68,611.64 L617.92,611.54 L617.17,611.42 L616.41,611.30 L615.66,611.18 L614.90,611.04 L614.14,610.90 L613.39,610.75 L612.63,610.59 L611.88,610.42 L611.12,610.24 L610.37,610.05 L609.61,609.86 L608.86,609.65 L608.10,609.44 L607.35,609.21 L606.59,608.97 L605.84,608.73 L605.08,608.47 L604.33,608.20 L603.57,607.91 L602.82,607.62 L602.06,607.31 L601.31,606.99 L600.55,606.66 L599.79,606.32 L599.04,605.96 L598.28,605.58 L597.53,605.20 L596.77,604.79 L596.02,604.38 L595.26,603.95 L594.51,603.50 L593.75,603.04 L593.00,602.56 L592.24,602.07 L591.49,601.56 L590.73,601.03 L589.98,600.48 L589.22,599.92 L588.47,599.34 L587.71,598.75 L586.96,598.13 L586.20,597.50 L586.20,597.50 L585.44,598.38 L584.69,599.22 L583.93,600.03 L583.18,600.81 L582.42,601.56 L581.66,602.27 L580.91,602.96 L580.15,603.62 L579.39,604.24 L578.64,604.84 L577.88,605.41 L577.12,605.96 L576.37,606.48 L575.61,606.97 L574.86,607.43 L574.10,607.87 L573.34,608.29 L572.59,608.68 L571.83,609.05 L571.08,609.40 L570.32,609.72 L569.56,610.03 L568.81,610.31 L568.05,610.57 L567.29,610.81 L566.54,611.03 L565.78,611.24 L565.02,611.42 L564.27,611.59 L563.51,611.74 L562.76,611.88 L562.00,612.00 Z" fill="#fde3e6" stroke="none"/>
<line x1="546.40" y1="597.93" x2="682.20" y2="597.93" stroke="#000" stroke-width="1.6" stroke-dasharray="6.77 7.04"/>
<path d="M562.00,607.20 L562.75,607.11 L563.50,606.98 L564.26,606.83 L565.01,606.64 L565.76,606.42 L566.51,606.17 L567.27,605.90 L568.02,605.61 L568.77,605.30 L569.52,604.98 L570.28,604.64 L571.03,604.29 L571.78,603.92 L572.53,603.56 L573.28,603.19 L574.04,602.81 L574.79,602.44 L575.54,602.07 L576.29,601.70 L577.05,601.35 L577.80,601.00 L578.55,600.67 L579.30,600.35 L580.06,600.05 L580.81,599.77 L581.56,599.51 L582.31,599.27 L583.06,599.07 L583.82,598.89 L584.57,598.75 L585.32,598.64 L586.07,598.56 L586.83,598.53 L587.58,598.53 L588.33,598.57 L589.08,598.64 L589.84,598.74 L590.59,598.87 L591.34,599.02 L592.09,599.20 L592.85,599.39 L593.60,599.60 L594.35,599.82 L595.10,600.05 L595.85,600.29 L596.61,600.53 L597.36,600.79 L598.11,601.04 L598.86,601.30 L599.62,601.56 L600.37,601.82 L601.12,602.08 L601.87,602.34 L602.63,602.60 L603.38,602.85 L604.13,603.10 L604.88,603.35 L605.63,603.59 L606.39,603.82 L607.14,604.05 L607.89,604.27 L608.64,604.49 L609.40,604.70 L610.15,604.91 L610.90,605.11 L611.65,605.31 L612.41,605.50 L613.16,605.68 L613.91,605.87 L614.66,606.05 L615.41,606.22 L616.17,606.39 L616.92,606.55 L617.67,606.71 L618.42,606.87 L619.18,607.02 L619.93,607.17 L620.68,607.31 L621.43,607.45 L622.19,607.59 L622.94,607.72 L623.69,607.85 L624.44,607.98 L625.19,608.10 L625.95,608.22 L626.70,608.33 L627.45,608.45 L628.20,608.56 L628.96,608.66 L629.71,608.77 L630.46,608.87 L631.21,608.96 L631.97,609.06 L632.72,609.15 L633.47,609.24 L634.22,609.32 L634.97,609.41 L635.73,609.49 L636.48,609.57 L637.23,609.65 L637.98,609.72 L638.74,609.80 L639.49,609.87 L640.24,609.94 L640.99,610.01 L641.75,610.07 L642.50,610.14 L643.25,610.20 L644.00,610.26 L644.75,610.32 L645.51,610.38 L646.26,610.44 L647.01,610.49 L647.76,610.55 L648.52,610.60 L649.27,610.66 L650.02,610.71 L650.77,610.76 L651.53,610.81 L652.28,610.86 L653.03,610.92 L653.78,610.97 L654.54,611.01 L655.29,611.06 L656.04,611.11 L656.79,611.16 L657.54,611.21 L658.30,611.26 L659.05,611.31 L659.80,611.36 L660.55,611.41 L661.31,611.46 L662.06,611.51 L662.81,611.56 L663.56,611.61 L664.32,611.67 L665.07,611.72 L665.82,611.78 L666.57,611.83 L667.32,611.89 L668.08,611.94 L668.83,612.00 L669.58,612.06 L670.33,612.12 L671.09,612.19 L671.84,612.25 L672.59,612.32 L673.34,612.39 L674.10,612.46 L674.85,612.53 L675.60,612.60" fill="none" stroke="#f24046" stroke-width="1.75" stroke-linejoin="round" stroke-linecap="butt"/>
<path d="M546.40,510.80 L546.40,619.40 L682.20,619.40" fill="none" stroke="#000" stroke-width="1.55" stroke-linejoin="round"/>
<line x1="552.63" y1="619.40" x2="552.63" y2="623.70" stroke="#000" stroke-width="1.15"/>
<text x="552.63" y="638.00" text-anchor="middle" class="tk">0</text>
<line x1="583.48" y1="619.40" x2="583.48" y2="623.70" stroke="#000" stroke-width="1.15"/>
<text x="583.48" y="638.00" text-anchor="middle" class="tk">5</text>
<line x1="614.33" y1="619.40" x2="614.33" y2="623.70" stroke="#000" stroke-width="1.15"/>
<text x="614.33" y="638.00" text-anchor="middle" class="tk">10</text>
<line x1="645.18" y1="619.40" x2="645.18" y2="623.70" stroke="#000" stroke-width="1.15"/>
<text x="645.18" y="638.00" text-anchor="middle" class="tk">15</text>
<line x1="676.03" y1="619.40" x2="676.03" y2="623.70" stroke="#000" stroke-width="1.15"/>
<text x="676.03" y="638.00" text-anchor="middle" class="tk">20</text>
<line x1="542.10" y1="614.46" x2="546.40" y2="614.46" stroke="#000" stroke-width="1.15"/>
<text x="538.65" y="619.96" text-anchor="end" class="tk">0</text>
<line x1="542.10" y1="581.40" x2="546.40" y2="581.40" stroke="#000" stroke-width="1.15"/>
<text x="538.65" y="586.90" text-anchor="end" class="tk">2</text>
<line x1="542.10" y1="548.34" x2="546.40" y2="548.34" stroke="#000" stroke-width="1.15"/>
<text x="538.65" y="553.84" text-anchor="end" class="tk">4</text>
<line x1="542.10" y1="515.28" x2="546.40" y2="515.28" stroke="#000" stroke-width="1.15"/>
<text x="538.65" y="520.78" text-anchor="end" class="tk">6</text>
<text x="541.30" y="501.10" class="tt">(p) Thyroid</text></g>
<text transform="translate(12.20,74.35) rotate(-90)" text-anchor="middle" class="tt">HR (95% CI)</text>
<text transform="translate(12.20,233.70) rotate(-90)" text-anchor="middle" class="tt">HR (95% CI)</text>
<text transform="translate(12.20,400.90) rotate(-90)" text-anchor="middle" class="tt">HR (95% CI)</text>
<text transform="translate(12.20,562.65) rotate(-90)" text-anchor="middle" class="tt">HR (95% CI)</text>
<text x="107.90" y="664.20" text-anchor="middle" class="tt">Urea (mmol/L)</text>
<text x="270.75" y="664.20" text-anchor="middle" class="tt">Urea (mmol/L)</text>
<text x="441.35" y="664.20" text-anchor="middle" class="tt">Urea (mmol/L)</text>
<text x="616.35" y="664.20" text-anchor="middle" class="tt">Urea (mmol/L)</text>
</svg>
</body></html>
